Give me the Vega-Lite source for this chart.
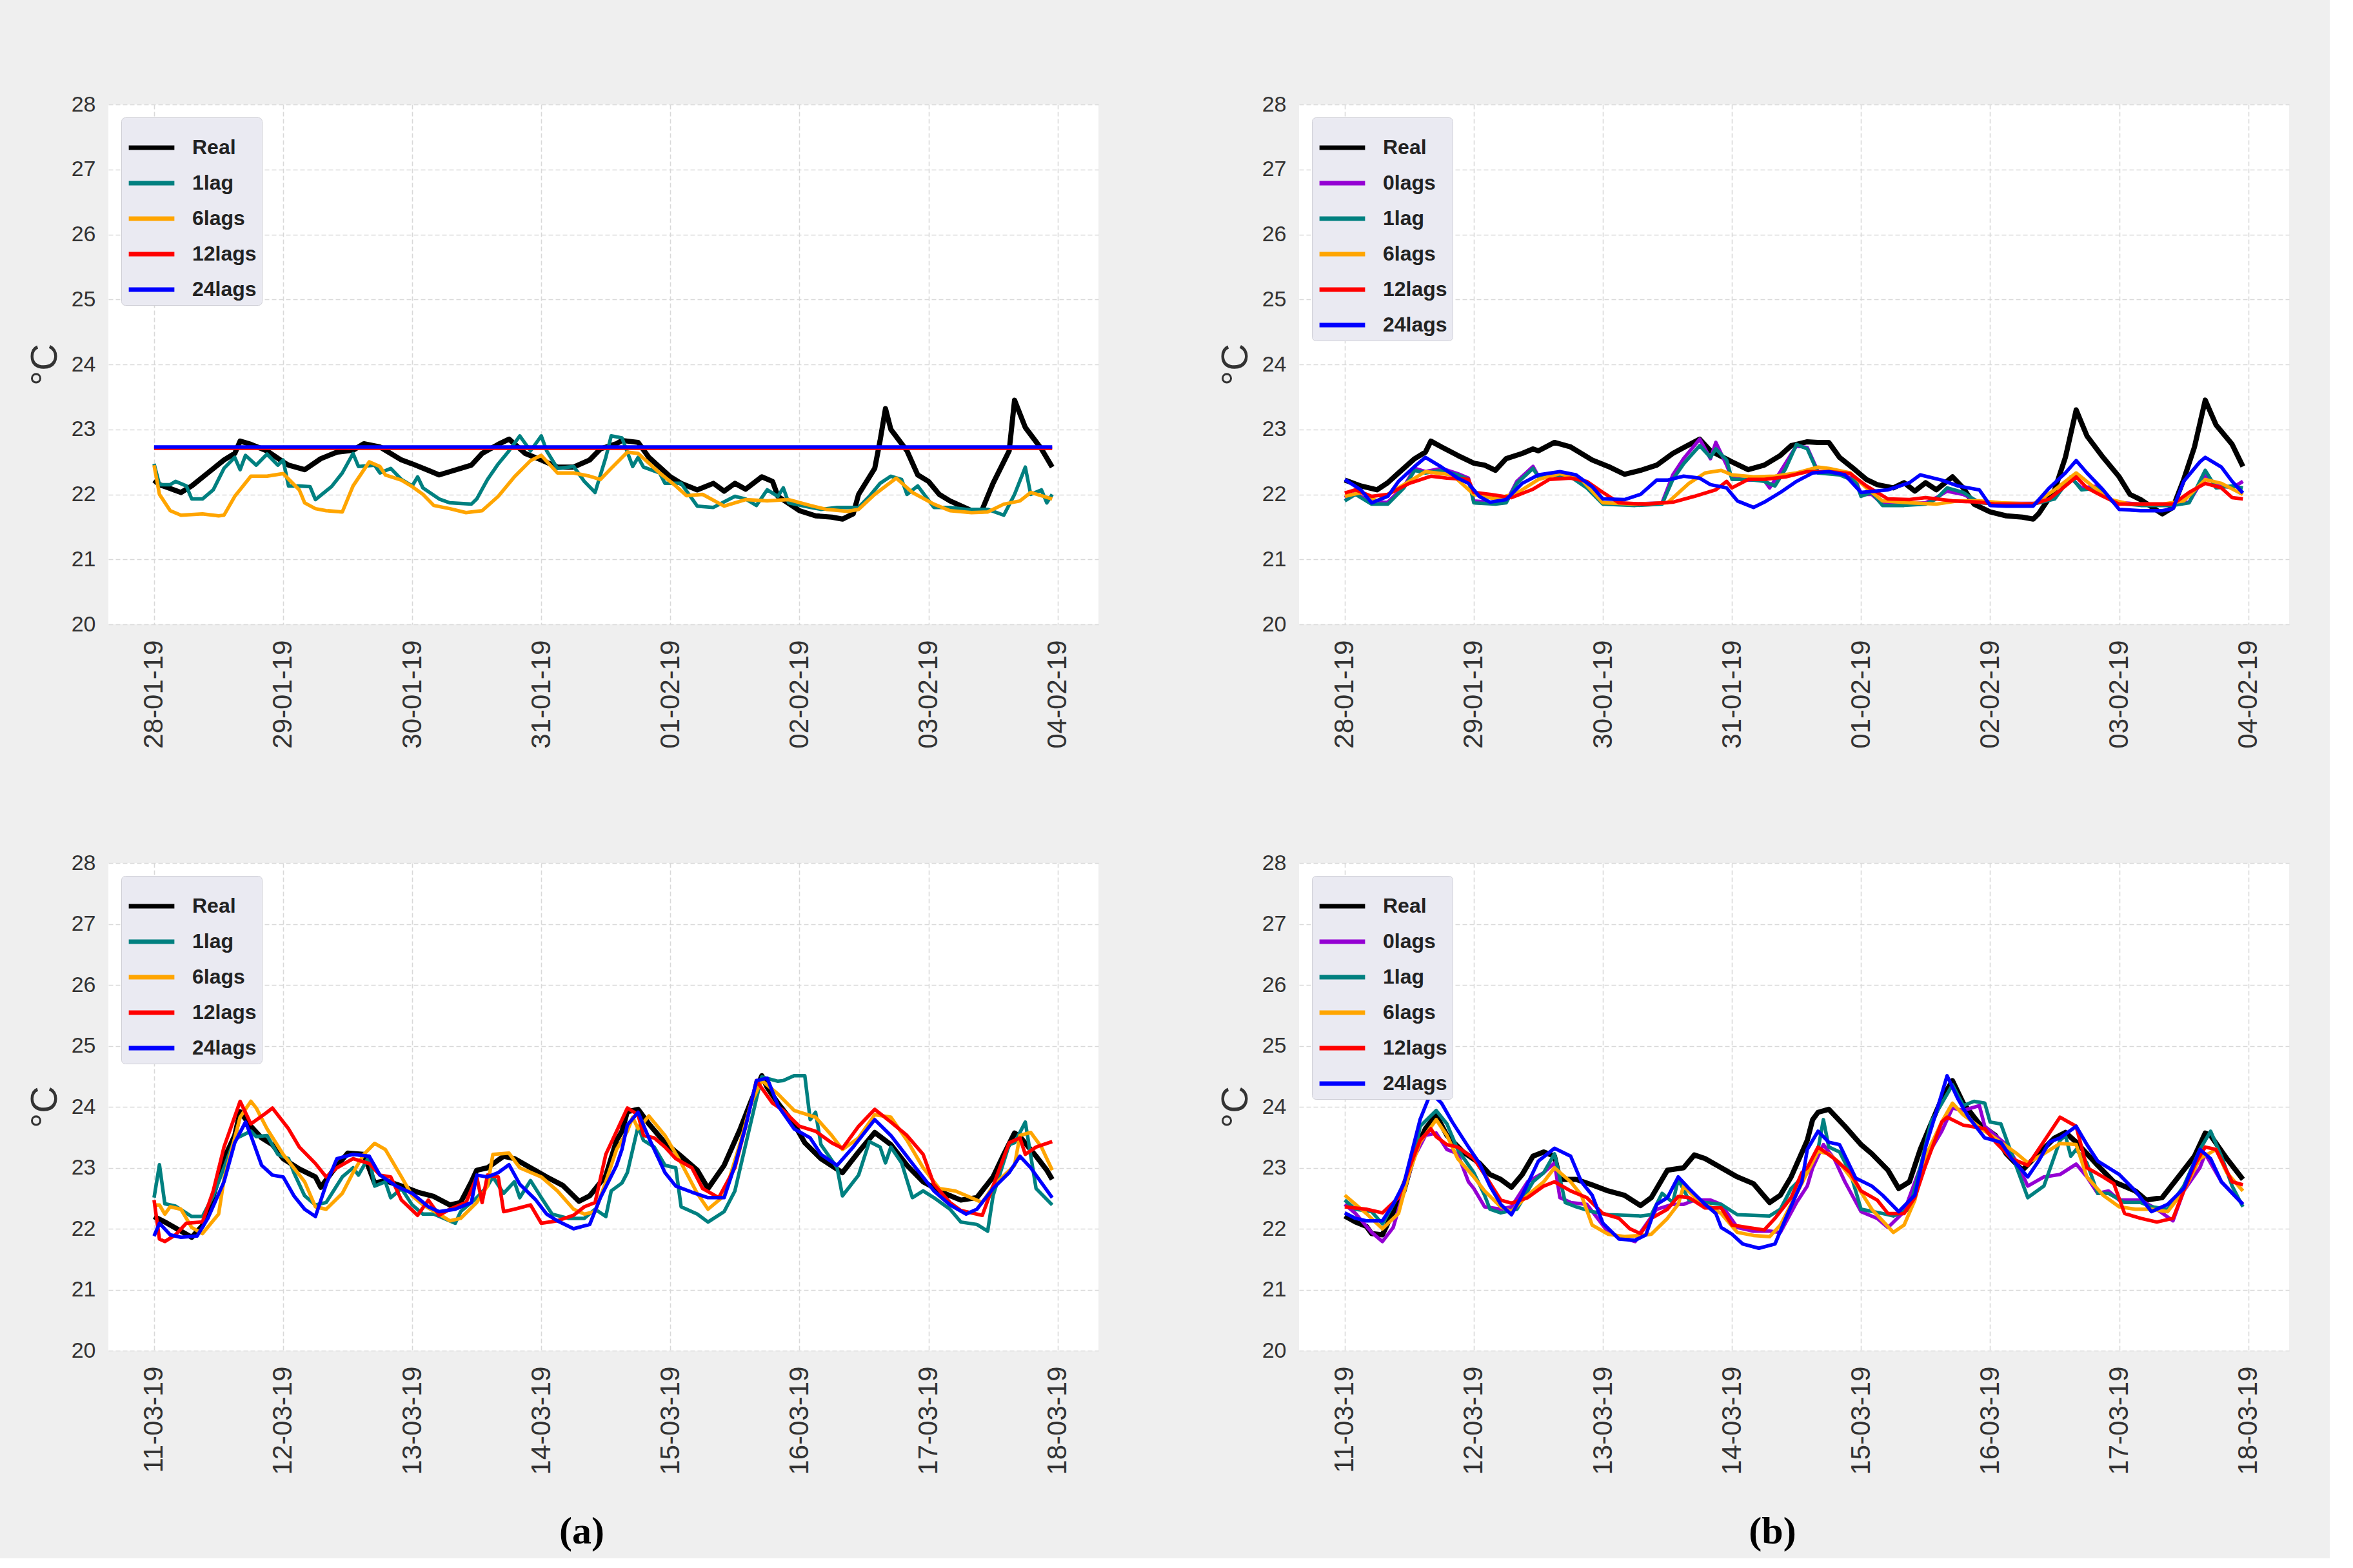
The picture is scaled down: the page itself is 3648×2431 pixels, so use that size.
{
"$schema": "https://vega.github.io/schema/vega-lite/v6.json",
"background": "#efefef",
"padding": {"left": 41, "top": 145, "right": 63, "bottom": 10},
"config": {
  "font": "Liberation Sans",
  "view": {"fill": "white", "stroke": null},
  "axis": {"domain": false, "ticks": false, "tickSize": 0, "gridColor": "#d9d9d9", "gridDash": [7, 4], "gridWidth": 1.6, "labelColor": "#333333", "titleColor": "#333333", "titleFontWeight": "normal"},
  "axisX": {"labelAngle": 270, "labelFontSize": 42, "labelPadding": 24, "labelFlush": false, "format": "%d-%m-%y", "tickCount": {"interval": "day", "step": 1}},
  "axisY": {"labelFont": "Liberation Sans", "labelFontSize": 34, "labelPadding": 20, "titleFontSize": 58, "titlePadding": 12, "minExtent": 57, "maxExtent": 57},
  "legend": {"orient": "top-left", "offset": 20, "fillColor": "#eaeaf2", "strokeColor": "#cfcfd6", "cornerRadius": 6, "padding": 8, "symbolType": "stroke", "symbolSize": 5000, "symbolStrokeWidth": 7, "labelFont": "Liberation Sans", "labelFontSize": 32, "labelFontWeight": "bold", "labelColor": "#222222", "labelOffset": 24, "rowPadding": -6}
},
"resolve": {"scale": {"color": "independent", "x": "independent", "y": "independent"}, "legend": {"color": "independent"}},
"spacing": 184,
"hconcat": [
{
"title": {"text": "(a)", "orient": "bottom", "anchor": "middle", "font": "Liberation Serif", "fontSize": 60, "fontWeight": "bold", "color": "#000000", "offset": 60, "dx": 30},
"spacing": 160,
"resolve": {"scale": {"color": "independent", "x": "independent", "y": "independent"}, "legend": {"color": "independent"}},
"vconcat": [
{
"width": 1535, "height": 806,
"data": {"format": {"parse": {"t": "date:'%Y-%m-%d %H'"}}, "values": [
{"s":"Real","t":"2019-01-28 00","v":22.22},{"s":"Real","t":"2019-01-28 01","v":22.15},{"s":"Real","t":"2019-01-28 05","v":22.03},{"s":"Real","t":"2019-01-28 07","v":22.13},{"s":"Real","t":"2019-01-28 10","v":22.33},{"s":"Real","t":"2019-01-28 13","v":22.53},{"s":"Real","t":"2019-01-28 15","v":22.63},{"s":"Real","t":"2019-01-28 16","v":22.82},{"s":"Real","t":"2019-01-28 18","v":22.77},{"s":"Real","t":"2019-01-28 21","v":22.67},
{"s":"Real","t":"2019-01-29 00","v":22.5},{"s":"Real","t":"2019-01-29 01","v":22.45},{"s":"Real","t":"2019-01-29 04","v":22.38},{"s":"Real","t":"2019-01-29 07","v":22.55},{"s":"Real","t":"2019-01-29 10","v":22.65},{"s":"Real","t":"2019-01-29 13","v":22.68},{"s":"Real","t":"2019-01-29 15","v":22.78},{"s":"Real","t":"2019-01-29 18","v":22.73},{"s":"Real","t":"2019-01-29 22","v":22.53},
{"s":"Real","t":"2019-01-30 00","v":22.47},{"s":"Real","t":"2019-01-30 03","v":22.37},{"s":"Real","t":"2019-01-30 05","v":22.3},{"s":"Real","t":"2019-01-30 07","v":22.35},{"s":"Real","t":"2019-01-30 11","v":22.45},{"s":"Real","t":"2019-01-30 13","v":22.63},{"s":"Real","t":"2019-01-30 16","v":22.77},{"s":"Real","t":"2019-01-30 18","v":22.85},{"s":"Real","t":"2019-01-30 21","v":22.63},
{"s":"Real","t":"2019-01-31 00","v":22.53},{"s":"Real","t":"2019-01-31 03","v":22.42},{"s":"Real","t":"2019-01-31 06","v":22.42},{"s":"Real","t":"2019-01-31 09","v":22.53},{"s":"Real","t":"2019-01-31 11","v":22.7},{"s":"Real","t":"2019-01-31 14","v":22.78},{"s":"Real","t":"2019-01-31 15","v":22.83},{"s":"Real","t":"2019-01-31 18","v":22.8},{"s":"Real","t":"2019-01-31 20","v":22.57},
{"s":"Real","t":"2019-02-01 00","v":22.27},{"s":"Real","t":"2019-02-01 02","v":22.17},{"s":"Real","t":"2019-02-01 05","v":22.07},{"s":"Real","t":"2019-02-01 08","v":22.17},{"s":"Real","t":"2019-02-01 10","v":22.05},{"s":"Real","t":"2019-02-01 12","v":22.17},{"s":"Real","t":"2019-02-01 14","v":22.08},{"s":"Real","t":"2019-02-01 17","v":22.27},{"s":"Real","t":"2019-02-01 19","v":22.2},{"s":"Real","t":"2019-02-01 20","v":21.97},
{"s":"Real","t":"2019-02-02 00","v":21.75},{"s":"Real","t":"2019-02-02 03","v":21.67},{"s":"Real","t":"2019-02-02 06","v":21.65},{"s":"Real","t":"2019-02-02 08","v":21.62},{"s":"Real","t":"2019-02-02 10","v":21.7},{"s":"Real","t":"2019-02-02 11","v":22.0},{"s":"Real","t":"2019-02-02 14","v":22.4},{"s":"Real","t":"2019-02-02 15","v":22.83},{"s":"Real","t":"2019-02-02 16","v":23.32},{"s":"Real","t":"2019-02-02 17","v":23.0},{"s":"Real","t":"2019-02-02 20","v":22.67},{"s":"Real","t":"2019-02-02 22","v":22.3},
{"s":"Real","t":"2019-02-03 00","v":22.2},{"s":"Real","t":"2019-02-03 02","v":22.0},{"s":"Real","t":"2019-02-03 04","v":21.9},{"s":"Real","t":"2019-02-03 08","v":21.75},{"s":"Real","t":"2019-02-03 10","v":21.77},{"s":"Real","t":"2019-02-03 12","v":22.17},{"s":"Real","t":"2019-02-03 15","v":22.67},{"s":"Real","t":"2019-02-03 16","v":23.45},{"s":"Real","t":"2019-02-03 18","v":23.03},{"s":"Real","t":"2019-02-03 21","v":22.7},{"s":"Real","t":"2019-02-03 23","v":22.42},
{"s":"1lag","t":"2019-01-28 00","v":22.47},{"s":"1lag","t":"2019-01-28 01","v":22.15},{"s":"1lag","t":"2019-01-28 03","v":22.15},{"s":"1lag","t":"2019-01-28 04","v":22.2},{"s":"1lag","t":"2019-01-28 06","v":22.13},{"s":"1lag","t":"2019-01-28 07","v":21.93},{"s":"1lag","t":"2019-01-28 09","v":21.93},{"s":"1lag","t":"2019-01-28 11","v":22.07},{"s":"1lag","t":"2019-01-28 13","v":22.4},{"s":"1lag","t":"2019-01-28 15","v":22.57},{"s":"1lag","t":"2019-01-28 16","v":22.38},{"s":"1lag","t":"2019-01-28 17","v":22.6},{"s":"1lag","t":"2019-01-28 19","v":22.45},{"s":"1lag","t":"2019-01-28 21","v":22.62},{"s":"1lag","t":"2019-01-28 23","v":22.45},
{"s":"1lag","t":"2019-01-29 00","v":22.53},{"s":"1lag","t":"2019-01-29 01","v":22.13},{"s":"1lag","t":"2019-01-29 03","v":22.13},{"s":"1lag","t":"2019-01-29 05","v":22.12},{"s":"1lag","t":"2019-01-29 06","v":21.92},{"s":"1lag","t":"2019-01-29 09","v":22.12},{"s":"1lag","t":"2019-01-29 11","v":22.33},{"s":"1lag","t":"2019-01-29 13","v":22.63},{"s":"1lag","t":"2019-01-29 14","v":22.43},{"s":"1lag","t":"2019-01-29 17","v":22.45},{"s":"1lag","t":"2019-01-29 18","v":22.33},{"s":"1lag","t":"2019-01-29 20","v":22.4},{"s":"1lag","t":"2019-01-29 22","v":22.23},
{"s":"1lag","t":"2019-01-30 00","v":22.13},{"s":"1lag","t":"2019-01-30 01","v":22.27},{"s":"1lag","t":"2019-01-30 02","v":22.1},{"s":"1lag","t":"2019-01-30 05","v":21.93},{"s":"1lag","t":"2019-01-30 07","v":21.87},{"s":"1lag","t":"2019-01-30 11","v":21.85},{"s":"1lag","t":"2019-01-30 12","v":21.93},{"s":"1lag","t":"2019-01-30 14","v":22.23},{"s":"1lag","t":"2019-01-30 16","v":22.47},{"s":"1lag","t":"2019-01-30 18","v":22.67},{"s":"1lag","t":"2019-01-30 20","v":22.9},{"s":"1lag","t":"2019-01-30 22","v":22.67},
{"s":"1lag","t":"2019-01-31 00","v":22.9},{"s":"1lag","t":"2019-01-31 01","v":22.67},{"s":"1lag","t":"2019-01-31 03","v":22.4},{"s":"1lag","t":"2019-01-31 06","v":22.43},{"s":"1lag","t":"2019-01-31 08","v":22.2},{"s":"1lag","t":"2019-01-31 10","v":22.03},{"s":"1lag","t":"2019-01-31 12","v":22.57},{"s":"1lag","t":"2019-01-31 13","v":22.9},{"s":"1lag","t":"2019-01-31 15","v":22.87},{"s":"1lag","t":"2019-01-31 17","v":22.43},{"s":"1lag","t":"2019-01-31 18","v":22.57},{"s":"1lag","t":"2019-01-31 19","v":22.42},{"s":"1lag","t":"2019-01-31 22","v":22.33},{"s":"1lag","t":"2019-01-31 23","v":22.17},
{"s":"1lag","t":"2019-02-01 02","v":22.17},{"s":"1lag","t":"2019-02-01 05","v":21.82},{"s":"1lag","t":"2019-02-01 08","v":21.8},{"s":"1lag","t":"2019-02-01 12","v":21.97},{"s":"1lag","t":"2019-02-01 14","v":21.93},{"s":"1lag","t":"2019-02-01 16","v":21.83},{"s":"1lag","t":"2019-02-01 18","v":22.07},{"s":"1lag","t":"2019-02-01 20","v":21.97},{"s":"1lag","t":"2019-02-01 21","v":22.1},{"s":"1lag","t":"2019-02-01 22","v":21.87},
{"s":"1lag","t":"2019-02-02 02","v":21.8},{"s":"1lag","t":"2019-02-02 04","v":21.77},{"s":"1lag","t":"2019-02-02 07","v":21.8},{"s":"1lag","t":"2019-02-02 11","v":21.8},{"s":"1lag","t":"2019-02-02 13","v":21.97},{"s":"1lag","t":"2019-02-02 15","v":22.17},{"s":"1lag","t":"2019-02-02 17","v":22.28},{"s":"1lag","t":"2019-02-02 19","v":22.23},{"s":"1lag","t":"2019-02-02 20","v":22.0},{"s":"1lag","t":"2019-02-02 22","v":22.13},
{"s":"1lag","t":"2019-02-03 01","v":21.8},{"s":"1lag","t":"2019-02-03 04","v":21.8},{"s":"1lag","t":"2019-02-03 07","v":21.77},{"s":"1lag","t":"2019-02-03 11","v":21.77},{"s":"1lag","t":"2019-02-03 14","v":21.68},{"s":"1lag","t":"2019-02-03 16","v":22.0},{"s":"1lag","t":"2019-02-03 18","v":22.42},{"s":"1lag","t":"2019-02-03 19","v":22.0},{"s":"1lag","t":"2019-02-03 21","v":22.07},{"s":"1lag","t":"2019-02-03 22","v":21.87},{"s":"1lag","t":"2019-02-03 23","v":22.0},
{"s":"6lags","t":"2019-01-28 00","v":22.45},{"s":"6lags","t":"2019-01-28 01","v":22.0},{"s":"6lags","t":"2019-01-28 03","v":21.75},{"s":"6lags","t":"2019-01-28 05","v":21.68},{"s":"6lags","t":"2019-01-28 09","v":21.7},{"s":"6lags","t":"2019-01-28 12","v":21.67},{"s":"6lags","t":"2019-01-28 13","v":21.68},{"s":"6lags","t":"2019-01-28 15","v":21.97},{"s":"6lags","t":"2019-01-28 18","v":22.28},{"s":"6lags","t":"2019-01-28 21","v":22.28},
{"s":"6lags","t":"2019-01-29 00","v":22.32},{"s":"6lags","t":"2019-01-29 03","v":22.07},{"s":"6lags","t":"2019-01-29 04","v":21.87},{"s":"6lags","t":"2019-01-29 06","v":21.78},{"s":"6lags","t":"2019-01-29 08","v":21.75},{"s":"6lags","t":"2019-01-29 11","v":21.73},{"s":"6lags","t":"2019-01-29 13","v":22.13},{"s":"6lags","t":"2019-01-29 16","v":22.5},{"s":"6lags","t":"2019-01-29 18","v":22.43},{"s":"6lags","t":"2019-01-29 19","v":22.3},{"s":"6lags","t":"2019-01-29 22","v":22.22},
{"s":"6lags","t":"2019-01-30 00","v":22.12},{"s":"6lags","t":"2019-01-30 02","v":22.0},{"s":"6lags","t":"2019-01-30 04","v":21.83},{"s":"6lags","t":"2019-01-30 07","v":21.78},{"s":"6lags","t":"2019-01-30 10","v":21.72},{"s":"6lags","t":"2019-01-30 13","v":21.75},{"s":"6lags","t":"2019-01-30 16","v":21.97},{"s":"6lags","t":"2019-01-30 19","v":22.27},{"s":"6lags","t":"2019-01-30 22","v":22.52},
{"s":"6lags","t":"2019-01-31 00","v":22.6},{"s":"6lags","t":"2019-01-31 03","v":22.33},{"s":"6lags","t":"2019-01-31 06","v":22.33},{"s":"6lags","t":"2019-01-31 09","v":22.28},{"s":"6lags","t":"2019-01-31 11","v":22.23},{"s":"6lags","t":"2019-01-31 13","v":22.4},{"s":"6lags","t":"2019-01-31 16","v":22.65},{"s":"6lags","t":"2019-01-31 18","v":22.63},{"s":"6lags","t":"2019-01-31 22","v":22.33},
{"s":"6lags","t":"2019-02-01 01","v":22.13},{"s":"6lags","t":"2019-02-01 03","v":21.98},{"s":"6lags","t":"2019-02-01 06","v":22.0},{"s":"6lags","t":"2019-02-01 10","v":21.82},{"s":"6lags","t":"2019-02-01 14","v":21.92},{"s":"6lags","t":"2019-02-01 18","v":21.9},{"s":"6lags","t":"2019-02-01 22","v":21.92},
{"s":"6lags","t":"2019-02-02 02","v":21.83},{"s":"6lags","t":"2019-02-02 05","v":21.77},{"s":"6lags","t":"2019-02-02 09","v":21.74},{"s":"6lags","t":"2019-02-02 11","v":21.77},{"s":"6lags","t":"2019-02-02 14","v":22.0},{"s":"6lags","t":"2019-02-02 18","v":22.25},{"s":"6lags","t":"2019-02-02 21","v":22.03},
{"s":"6lags","t":"2019-02-03 01","v":21.85},{"s":"6lags","t":"2019-02-03 04","v":21.75},{"s":"6lags","t":"2019-02-03 08","v":21.72},{"s":"6lags","t":"2019-02-03 11","v":21.73},{"s":"6lags","t":"2019-02-03 14","v":21.85},{"s":"6lags","t":"2019-02-03 17","v":21.9},{"s":"6lags","t":"2019-02-03 19","v":22.03},{"s":"6lags","t":"2019-02-03 23","v":21.93},
{"s":"12lags","t":"2019-01-28 00","v":22.71},{"s":"12lags","t":"2019-02-03 23","v":22.71},
{"s":"24lags","t":"2019-01-28 00","v":22.73},{"s":"24lags","t":"2019-02-03 23","v":22.73}
]},
"mark": {"type": "line", "strokeJoin": "round"},
"encoding": {
  "x": {"field": "t", "type": "temporal", "title": null, "scale": {"domain": [{"year": 2019, "month": 1, "date": 27, "hours": 15, "minutes": 30}, {"year": 2019, "month": 2, "date": 4, "hours": 7, "minutes": 36}]}},
  "y": {"field": "v", "type": "quantitative", "title": "°C", "scale": {"domain": [20, 28], "nice": false, "zero": false}, "axis": {"values": [20, 21, 22, 23, 24, 25, 26, 27, 28]}},
  "color": {"field": "s", "type": "nominal", "scale": {"domain": ["Real", "1lag", "6lags", "12lags", "24lags"], "range": ["#000000", "#008080", "#ffa500", "#ff0000", "#0000ff"]}, "legend": {"title": null}},
  "strokeWidth": {"condition": {"test": "datum.s === 'Real'", "value": 8}, "value": 5.5}
}
},
{
"width": 1535, "height": 756,
"data": {"format": {"parse": {"t": "date:'%Y-%m-%d %H'"}}, "values": [
{"s":"Real","t":"2019-03-11 00","v":22.2},{"s":"Real","t":"2019-03-11 02","v":22.11},{"s":"Real","t":"2019-03-11 05","v":21.96},{"s":"Real","t":"2019-03-11 07","v":21.86},{"s":"Real","t":"2019-03-11 09","v":22.05},{"s":"Real","t":"2019-03-11 11","v":22.54},{"s":"Real","t":"2019-03-11 13","v":23.15},{"s":"Real","t":"2019-03-11 15","v":23.53},{"s":"Real","t":"2019-03-11 16","v":23.92},{"s":"Real","t":"2019-03-11 18","v":23.68},{"s":"Real","t":"2019-03-11 20","v":23.49},{"s":"Real","t":"2019-03-11 22","v":23.38},
{"s":"Real","t":"2019-03-12 00","v":23.15},{"s":"Real","t":"2019-03-12 03","v":22.98},{"s":"Real","t":"2019-03-12 06","v":22.85},{"s":"Real","t":"2019-03-12 07","v":22.68},{"s":"Real","t":"2019-03-12 09","v":22.92},{"s":"Real","t":"2019-03-12 12","v":23.24},{"s":"Real","t":"2019-03-12 15","v":23.22},{"s":"Real","t":"2019-03-12 17","v":22.75},{"s":"Real","t":"2019-03-12 19","v":22.79},{"s":"Real","t":"2019-03-12 22","v":22.7},
{"s":"Real","t":"2019-03-13 01","v":22.6},{"s":"Real","t":"2019-03-13 04","v":22.53},{"s":"Real","t":"2019-03-13 07","v":22.39},{"s":"Real","t":"2019-03-13 09","v":22.43},{"s":"Real","t":"2019-03-13 11","v":22.77},{"s":"Real","t":"2019-03-13 12","v":22.96},{"s":"Real","t":"2019-03-13 14","v":23.0},{"s":"Real","t":"2019-03-13 17","v":23.19},{"s":"Real","t":"2019-03-13 19","v":23.15},{"s":"Real","t":"2019-03-13 22","v":23.0},
{"s":"Real","t":"2019-03-14 01","v":22.85},{"s":"Real","t":"2019-03-14 04","v":22.71},{"s":"Real","t":"2019-03-14 07","v":22.45},{"s":"Real","t":"2019-03-14 09","v":22.54},{"s":"Real","t":"2019-03-14 12","v":22.87},{"s":"Real","t":"2019-03-14 14","v":23.45},{"s":"Real","t":"2019-03-14 15","v":23.6},{"s":"Real","t":"2019-03-14 16","v":23.92},{"s":"Real","t":"2019-03-14 18","v":23.96},{"s":"Real","t":"2019-03-14 20","v":23.72},{"s":"Real","t":"2019-03-14 23","v":23.41},
{"s":"Real","t":"2019-03-15 02","v":23.19},{"s":"Real","t":"2019-03-15 05","v":22.96},{"s":"Real","t":"2019-03-15 07","v":22.66},{"s":"Real","t":"2019-03-15 10","v":23.04},{"s":"Real","t":"2019-03-15 13","v":23.64},{"s":"Real","t":"2019-03-15 15","v":24.09},{"s":"Real","t":"2019-03-15 17","v":24.51},{"s":"Real","t":"2019-03-15 18","v":24.32},{"s":"Real","t":"2019-03-15 20","v":24.06},{"s":"Real","t":"2019-03-15 23","v":23.72},
{"s":"Real","t":"2019-03-16 01","v":23.41},{"s":"Real","t":"2019-03-16 04","v":23.15},{"s":"Real","t":"2019-03-16 08","v":22.92},{"s":"Real","t":"2019-03-16 11","v":23.26},{"s":"Real","t":"2019-03-16 14","v":23.58},{"s":"Real","t":"2019-03-16 17","v":23.38},{"s":"Real","t":"2019-03-16 20","v":23.04},{"s":"Real","t":"2019-03-16 23","v":22.77},
{"s":"Real","t":"2019-03-17 03","v":22.58},{"s":"Real","t":"2019-03-17 06","v":22.47},{"s":"Real","t":"2019-03-17 09","v":22.51},{"s":"Real","t":"2019-03-17 12","v":22.85},{"s":"Real","t":"2019-03-17 14","v":23.22},{"s":"Real","t":"2019-03-17 16","v":23.57},{"s":"Real","t":"2019-03-17 17","v":23.51},{"s":"Real","t":"2019-03-17 20","v":23.19},{"s":"Real","t":"2019-03-17 22","v":22.96},{"s":"Real","t":"2019-03-17 23","v":22.81},
{"s":"1lag","t":"2019-03-11 00","v":22.51},{"s":"1lag","t":"2019-03-11 01","v":23.05},{"s":"1lag","t":"2019-03-11 02","v":22.41},{"s":"1lag","t":"2019-03-11 04","v":22.37},{"s":"1lag","t":"2019-03-11 07","v":22.2},{"s":"1lag","t":"2019-03-11 09","v":22.2},{"s":"1lag","t":"2019-03-11 11","v":22.54},{"s":"1lag","t":"2019-03-11 13","v":23.0},{"s":"1lag","t":"2019-03-11 15","v":23.47},{"s":"1lag","t":"2019-03-11 18","v":23.6},{"s":"1lag","t":"2019-03-11 19","v":23.51},{"s":"1lag","t":"2019-03-11 21","v":23.53},{"s":"1lag","t":"2019-03-11 23","v":23.22},
{"s":"1lag","t":"2019-03-12 01","v":23.15},{"s":"1lag","t":"2019-03-12 02","v":22.92},{"s":"1lag","t":"2019-03-12 04","v":22.54},{"s":"1lag","t":"2019-03-12 06","v":22.39},{"s":"1lag","t":"2019-03-12 08","v":22.43},{"s":"1lag","t":"2019-03-12 11","v":22.85},{"s":"1lag","t":"2019-03-12 13","v":23.0},{"s":"1lag","t":"2019-03-12 14","v":22.88},{"s":"1lag","t":"2019-03-12 16","v":23.19},{"s":"1lag","t":"2019-03-12 17","v":22.7},{"s":"1lag","t":"2019-03-12 19","v":22.77},{"s":"1lag","t":"2019-03-12 20","v":22.51},{"s":"1lag","t":"2019-03-12 22","v":22.66},
{"s":"1lag","t":"2019-03-13 00","v":22.39},{"s":"1lag","t":"2019-03-13 02","v":22.24},{"s":"1lag","t":"2019-03-13 04","v":22.24},{"s":"1lag","t":"2019-03-13 08","v":22.09},{"s":"1lag","t":"2019-03-13 09","v":22.28},{"s":"1lag","t":"2019-03-13 12","v":22.51},{"s":"1lag","t":"2019-03-13 14","v":22.7},{"s":"1lag","t":"2019-03-13 15","v":22.85},{"s":"1lag","t":"2019-03-13 17","v":22.58},{"s":"1lag","t":"2019-03-13 19","v":22.77},{"s":"1lag","t":"2019-03-13 20","v":22.51},{"s":"1lag","t":"2019-03-13 22","v":22.79},
{"s":"1lag","t":"2019-03-14 00","v":22.51},{"s":"1lag","t":"2019-03-14 02","v":22.24},{"s":"1lag","t":"2019-03-14 05","v":22.17},{"s":"1lag","t":"2019-03-14 08","v":22.17},{"s":"1lag","t":"2019-03-14 10","v":22.32},{"s":"1lag","t":"2019-03-14 12","v":22.2},{"s":"1lag","t":"2019-03-14 13","v":22.62},{"s":"1lag","t":"2019-03-14 15","v":22.75},{"s":"1lag","t":"2019-03-14 16","v":22.92},{"s":"1lag","t":"2019-03-14 18","v":23.68},{"s":"1lag","t":"2019-03-14 19","v":23.45},{"s":"1lag","t":"2019-03-14 21","v":23.34},{"s":"1lag","t":"2019-03-14 23","v":23.04},
{"s":"1lag","t":"2019-03-15 01","v":23.0},{"s":"1lag","t":"2019-03-15 02","v":22.36},{"s":"1lag","t":"2019-03-15 05","v":22.24},{"s":"1lag","t":"2019-03-15 07","v":22.11},{"s":"1lag","t":"2019-03-15 10","v":22.28},{"s":"1lag","t":"2019-03-15 12","v":22.62},{"s":"1lag","t":"2019-03-15 14","v":23.38},{"s":"1lag","t":"2019-03-15 16","v":24.13},{"s":"1lag","t":"2019-03-15 17","v":24.49},{"s":"1lag","t":"2019-03-15 20","v":24.42},{"s":"1lag","t":"2019-03-15 21","v":24.43},{"s":"1lag","t":"2019-03-15 23","v":24.51},
{"s":"1lag","t":"2019-03-16 01","v":24.51},{"s":"1lag","t":"2019-03-16 02","v":23.79},{"s":"1lag","t":"2019-03-16 03","v":23.91},{"s":"1lag","t":"2019-03-16 04","v":23.38},{"s":"1lag","t":"2019-03-16 07","v":23.0},{"s":"1lag","t":"2019-03-16 08","v":22.54},{"s":"1lag","t":"2019-03-16 11","v":22.88},{"s":"1lag","t":"2019-03-16 13","v":23.43},{"s":"1lag","t":"2019-03-16 15","v":23.34},{"s":"1lag","t":"2019-03-16 16","v":23.08},{"s":"1lag","t":"2019-03-16 17","v":23.34},{"s":"1lag","t":"2019-03-16 19","v":23.08},{"s":"1lag","t":"2019-03-16 21","v":22.51},{"s":"1lag","t":"2019-03-16 23","v":22.62},
{"s":"1lag","t":"2019-03-17 01","v":22.51},{"s":"1lag","t":"2019-03-17 04","v":22.32},{"s":"1lag","t":"2019-03-17 06","v":22.11},{"s":"1lag","t":"2019-03-17 09","v":22.07},{"s":"1lag","t":"2019-03-17 11","v":21.96},{"s":"1lag","t":"2019-03-17 12","v":22.54},{"s":"1lag","t":"2019-03-17 15","v":23.38},{"s":"1lag","t":"2019-03-17 16","v":23.41},{"s":"1lag","t":"2019-03-17 18","v":23.75},{"s":"1lag","t":"2019-03-17 20","v":22.66},{"s":"1lag","t":"2019-03-17 23","v":22.39},
{"s":"6lags","t":"2019-03-11 00","v":22.39},{"s":"6lags","t":"2019-03-11 01","v":22.39},{"s":"6lags","t":"2019-03-11 02","v":22.24},{"s":"6lags","t":"2019-03-11 03","v":22.36},{"s":"6lags","t":"2019-03-11 05","v":22.32},{"s":"6lags","t":"2019-03-11 07","v":22.02},{"s":"6lags","t":"2019-03-11 09","v":21.92},{"s":"6lags","t":"2019-03-11 12","v":22.24},{"s":"6lags","t":"2019-03-11 13","v":22.81},{"s":"6lags","t":"2019-03-11 16","v":23.83},{"s":"6lags","t":"2019-03-11 18","v":24.09},{"s":"6lags","t":"2019-03-11 19","v":23.98},{"s":"6lags","t":"2019-03-11 21","v":23.64},
{"s":"6lags","t":"2019-03-12 00","v":23.22},{"s":"6lags","t":"2019-03-12 01","v":23.11},{"s":"6lags","t":"2019-03-12 04","v":22.77},{"s":"6lags","t":"2019-03-12 06","v":22.36},{"s":"6lags","t":"2019-03-12 08","v":22.32},{"s":"6lags","t":"2019-03-12 11","v":22.58},{"s":"6lags","t":"2019-03-12 13","v":22.92},{"s":"6lags","t":"2019-03-12 15","v":23.22},{"s":"6lags","t":"2019-03-12 17","v":23.4},{"s":"6lags","t":"2019-03-12 19","v":23.3},{"s":"6lags","t":"2019-03-12 22","v":22.85},
{"s":"6lags","t":"2019-03-13 00","v":22.54},{"s":"6lags","t":"2019-03-13 02","v":22.39},{"s":"6lags","t":"2019-03-13 05","v":22.24},{"s":"6lags","t":"2019-03-13 07","v":22.13},{"s":"6lags","t":"2019-03-13 09","v":22.17},{"s":"6lags","t":"2019-03-13 12","v":22.43},{"s":"6lags","t":"2019-03-13 14","v":22.7},{"s":"6lags","t":"2019-03-13 15","v":23.22},{"s":"6lags","t":"2019-03-13 18","v":23.24},{"s":"6lags","t":"2019-03-13 20","v":23.0},
{"s":"6lags","t":"2019-03-14 00","v":22.85},{"s":"6lags","t":"2019-03-14 03","v":22.62},{"s":"6lags","t":"2019-03-14 06","v":22.32},{"s":"6lags","t":"2019-03-14 08","v":22.24},{"s":"6lags","t":"2019-03-14 10","v":22.28},{"s":"6lags","t":"2019-03-14 12","v":22.77},{"s":"6lags","t":"2019-03-14 14","v":23.3},{"s":"6lags","t":"2019-03-14 16","v":23.6},{"s":"6lags","t":"2019-03-14 17","v":23.83},{"s":"6lags","t":"2019-03-14 18","v":23.64},{"s":"6lags","t":"2019-03-14 20","v":23.85},{"s":"6lags","t":"2019-03-14 23","v":23.53},
{"s":"6lags","t":"2019-03-15 02","v":23.08},{"s":"6lags","t":"2019-03-15 05","v":22.58},{"s":"6lags","t":"2019-03-15 07","v":22.32},{"s":"6lags","t":"2019-03-15 10","v":22.54},{"s":"6lags","t":"2019-03-15 13","v":23.41},{"s":"6lags","t":"2019-03-15 15","v":24.06},{"s":"6lags","t":"2019-03-15 17","v":24.43},{"s":"6lags","t":"2019-03-15 20","v":24.21},{"s":"6lags","t":"2019-03-15 23","v":23.94},
{"s":"6lags","t":"2019-03-16 03","v":23.83},{"s":"6lags","t":"2019-03-16 06","v":23.53},{"s":"6lags","t":"2019-03-16 08","v":23.3},{"s":"6lags","t":"2019-03-16 11","v":23.49},{"s":"6lags","t":"2019-03-16 14","v":23.87},{"s":"6lags","t":"2019-03-16 17","v":23.83},{"s":"6lags","t":"2019-03-16 20","v":23.45},{"s":"6lags","t":"2019-03-16 23","v":23.0},
{"s":"6lags","t":"2019-03-17 02","v":22.66},{"s":"6lags","t":"2019-03-17 05","v":22.62},{"s":"6lags","t":"2019-03-17 10","v":22.43},{"s":"6lags","t":"2019-03-17 12","v":22.7},{"s":"6lags","t":"2019-03-17 16","v":23.04},{"s":"6lags","t":"2019-03-17 17","v":23.53},{"s":"6lags","t":"2019-03-17 19","v":23.58},{"s":"6lags","t":"2019-03-17 21","v":23.34},{"s":"6lags","t":"2019-03-17 23","v":22.96},
{"s":"12lags","t":"2019-03-11 00","v":22.47},{"s":"12lags","t":"2019-03-11 01","v":21.83},{"s":"12lags","t":"2019-03-11 02","v":21.79},{"s":"12lags","t":"2019-03-11 04","v":21.9},{"s":"12lags","t":"2019-03-11 06","v":22.09},{"s":"12lags","t":"2019-03-11 09","v":22.11},{"s":"12lags","t":"2019-03-11 11","v":22.62},{"s":"12lags","t":"2019-03-11 13","v":23.34},{"s":"12lags","t":"2019-03-11 16","v":24.09},{"s":"12lags","t":"2019-03-11 18","v":23.72},{"s":"12lags","t":"2019-03-11 21","v":23.91},{"s":"12lags","t":"2019-03-11 22","v":23.98},
{"s":"12lags","t":"2019-03-12 01","v":23.64},{"s":"12lags","t":"2019-03-12 03","v":23.34},{"s":"12lags","t":"2019-03-12 06","v":23.07},{"s":"12lags","t":"2019-03-12 08","v":22.85},{"s":"12lags","t":"2019-03-12 10","v":23.0},{"s":"12lags","t":"2019-03-12 13","v":23.15},{"s":"12lags","t":"2019-03-12 16","v":23.07},{"s":"12lags","t":"2019-03-12 18","v":22.88},{"s":"12lags","t":"2019-03-12 20","v":22.85},{"s":"12lags","t":"2019-03-12 22","v":22.47},
{"s":"12lags","t":"2019-03-13 01","v":22.22},{"s":"12lags","t":"2019-03-13 03","v":22.47},{"s":"12lags","t":"2019-03-13 05","v":22.22},{"s":"12lags","t":"2019-03-13 07","v":22.32},{"s":"12lags","t":"2019-03-13 10","v":22.43},{"s":"12lags","t":"2019-03-13 12","v":22.85},{"s":"12lags","t":"2019-03-13 13","v":22.43},{"s":"12lags","t":"2019-03-13 14","v":22.88},{"s":"12lags","t":"2019-03-13 16","v":22.85},{"s":"12lags","t":"2019-03-13 17","v":22.28},{"s":"12lags","t":"2019-03-13 19","v":22.32},{"s":"12lags","t":"2019-03-13 22","v":22.39},
{"s":"12lags","t":"2019-03-14 00","v":22.09},{"s":"12lags","t":"2019-03-14 03","v":22.13},{"s":"12lags","t":"2019-03-14 06","v":22.22},{"s":"12lags","t":"2019-03-14 08","v":22.36},{"s":"12lags","t":"2019-03-14 10","v":22.43},{"s":"12lags","t":"2019-03-14 12","v":23.22},{"s":"12lags","t":"2019-03-14 14","v":23.6},{"s":"12lags","t":"2019-03-14 16","v":23.98},{"s":"12lags","t":"2019-03-14 18","v":23.87},{"s":"12lags","t":"2019-03-14 19","v":23.53},{"s":"12lags","t":"2019-03-14 21","v":23.49},{"s":"12lags","t":"2019-03-14 23","v":23.34},
{"s":"12lags","t":"2019-03-15 01","v":23.15},{"s":"12lags","t":"2019-03-15 04","v":23.0},{"s":"12lags","t":"2019-03-15 06","v":22.66},{"s":"12lags","t":"2019-03-15 09","v":22.51},{"s":"12lags","t":"2019-03-15 12","v":23.0},{"s":"12lags","t":"2019-03-15 14","v":23.68},{"s":"12lags","t":"2019-03-15 16","v":24.43},{"s":"12lags","t":"2019-03-15 19","v":24.06},{"s":"12lags","t":"2019-03-15 21","v":23.94},
{"s":"12lags","t":"2019-03-16 00","v":23.68},{"s":"12lags","t":"2019-03-16 03","v":23.6},{"s":"12lags","t":"2019-03-16 06","v":23.41},{"s":"12lags","t":"2019-03-16 08","v":23.32},{"s":"12lags","t":"2019-03-16 11","v":23.68},{"s":"12lags","t":"2019-03-16 14","v":23.96},{"s":"12lags","t":"2019-03-16 17","v":23.75},{"s":"12lags","t":"2019-03-16 20","v":23.53},{"s":"12lags","t":"2019-03-16 23","v":23.22},
{"s":"12lags","t":"2019-03-17 01","v":22.73},{"s":"12lags","t":"2019-03-17 04","v":22.43},{"s":"12lags","t":"2019-03-17 06","v":22.3},{"s":"12lags","t":"2019-03-17 10","v":22.22},{"s":"12lags","t":"2019-03-17 12","v":22.7},{"s":"12lags","t":"2019-03-17 15","v":23.41},{"s":"12lags","t":"2019-03-17 17","v":23.49},{"s":"12lags","t":"2019-03-17 18","v":23.22},{"s":"12lags","t":"2019-03-17 20","v":23.34},{"s":"12lags","t":"2019-03-17 23","v":23.43},
{"s":"24lags","t":"2019-03-11 00","v":21.88},{"s":"24lags","t":"2019-03-11 01","v":22.09},{"s":"24lags","t":"2019-03-11 03","v":21.9},{"s":"24lags","t":"2019-03-11 05","v":21.86},{"s":"24lags","t":"2019-03-11 08","v":21.88},{"s":"24lags","t":"2019-03-11 10","v":22.17},{"s":"24lags","t":"2019-03-11 13","v":22.77},{"s":"24lags","t":"2019-03-11 15","v":23.41},{"s":"24lags","t":"2019-03-11 17","v":23.75},{"s":"24lags","t":"2019-03-11 18","v":23.53},{"s":"24lags","t":"2019-03-11 20","v":23.04},{"s":"24lags","t":"2019-03-11 22","v":22.88},
{"s":"24lags","t":"2019-03-12 00","v":22.85},{"s":"24lags","t":"2019-03-12 02","v":22.54},{"s":"24lags","t":"2019-03-12 04","v":22.32},{"s":"24lags","t":"2019-03-12 06","v":22.2},{"s":"24lags","t":"2019-03-12 08","v":22.73},{"s":"24lags","t":"2019-03-12 10","v":23.15},{"s":"24lags","t":"2019-03-12 13","v":23.22},{"s":"24lags","t":"2019-03-12 16","v":23.19},{"s":"24lags","t":"2019-03-12 18","v":22.88},{"s":"24lags","t":"2019-03-12 21","v":22.7},
{"s":"24lags","t":"2019-03-13 00","v":22.58},{"s":"24lags","t":"2019-03-13 03","v":22.36},{"s":"24lags","t":"2019-03-13 05","v":22.28},{"s":"24lags","t":"2019-03-13 08","v":22.32},{"s":"24lags","t":"2019-03-13 11","v":22.43},{"s":"24lags","t":"2019-03-13 12","v":22.88},{"s":"24lags","t":"2019-03-13 14","v":22.85},{"s":"24lags","t":"2019-03-13 16","v":22.92},{"s":"24lags","t":"2019-03-13 18","v":23.05},{"s":"24lags","t":"2019-03-13 20","v":22.73},{"s":"24lags","t":"2019-03-13 23","v":22.47},
{"s":"24lags","t":"2019-03-14 01","v":22.24},{"s":"24lags","t":"2019-03-14 03","v":22.13},{"s":"24lags","t":"2019-03-14 06","v":22.0},{"s":"24lags","t":"2019-03-14 09","v":22.07},{"s":"24lags","t":"2019-03-14 11","v":22.51},{"s":"24lags","t":"2019-03-14 14","v":23.04},{"s":"24lags","t":"2019-03-14 15","v":23.3},{"s":"24lags","t":"2019-03-14 16","v":23.7},{"s":"24lags","t":"2019-03-14 18","v":23.91},{"s":"24lags","t":"2019-03-14 20","v":23.49},{"s":"24lags","t":"2019-03-14 23","v":22.92},
{"s":"24lags","t":"2019-03-15 01","v":22.7},{"s":"24lags","t":"2019-03-15 04","v":22.6},{"s":"24lags","t":"2019-03-15 07","v":22.51},{"s":"24lags","t":"2019-03-15 10","v":22.51},{"s":"24lags","t":"2019-03-15 12","v":23.04},{"s":"24lags","t":"2019-03-15 14","v":23.68},{"s":"24lags","t":"2019-03-15 16","v":24.43},{"s":"24lags","t":"2019-03-15 18","v":24.47},{"s":"24lags","t":"2019-03-15 20","v":24.02},{"s":"24lags","t":"2019-03-15 23","v":23.64},
{"s":"24lags","t":"2019-03-16 02","v":23.49},{"s":"24lags","t":"2019-03-16 04","v":23.22},{"s":"24lags","t":"2019-03-16 07","v":23.04},{"s":"24lags","t":"2019-03-16 10","v":23.34},{"s":"24lags","t":"2019-03-16 14","v":23.79},{"s":"24lags","t":"2019-03-16 17","v":23.53},{"s":"24lags","t":"2019-03-16 21","v":23.07},
{"s":"24lags","t":"2019-03-17 01","v":22.62},{"s":"24lags","t":"2019-03-17 04","v":22.39},{"s":"24lags","t":"2019-03-17 07","v":22.24},{"s":"24lags","t":"2019-03-17 09","v":22.32},{"s":"24lags","t":"2019-03-17 12","v":22.66},{"s":"24lags","t":"2019-03-17 15","v":22.92},{"s":"24lags","t":"2019-03-17 17","v":23.19},{"s":"24lags","t":"2019-03-17 19","v":23.0},{"s":"24lags","t":"2019-03-17 23","v":22.51}
]},
"mark": {"type": "line", "strokeJoin": "round"},
"encoding": {
  "x": {"field": "t", "type": "temporal", "title": null, "scale": {"domain": [{"year": 2019, "month": 3, "date": 10, "hours": 15, "minutes": 30}, {"year": 2019, "month": 3, "date": 18, "hours": 7, "minutes": 36}]}},
  "y": {"field": "v", "type": "quantitative", "title": "°C", "scale": {"domain": [20, 28], "nice": false, "zero": false}, "axis": {"values": [20, 21, 22, 23, 24, 25, 26, 27, 28]}},
  "color": {"field": "s", "type": "nominal", "scale": {"domain": ["Real", "1lag", "6lags", "12lags", "24lags"], "range": ["#000000", "#008080", "#ffa500", "#ff0000", "#0000ff"]}, "legend": {"title": null}},
  "strokeWidth": {"condition": {"test": "datum.s === 'Real'", "value": 8}, "value": 5.5}
}
}
]
},
{
"title": {"text": "(b)", "orient": "bottom", "anchor": "middle", "font": "Liberation Serif", "fontSize": 60, "fontWeight": "bold", "color": "#000000", "offset": 60, "dx": 30},
"spacing": 160,
"resolve": {"scale": {"color": "independent", "x": "independent", "y": "independent"}, "legend": {"color": "independent"}},
"vconcat": [
{
"width": 1535, "height": 806,
"data": {"format": {"parse": {"t": "date:'%Y-%m-%d %H'"}}, "values": [
{"s":"Real","t":"2019-01-28 00","v":22.22},{"s":"Real","t":"2019-01-28 03","v":22.13},{"s":"Real","t":"2019-01-28 06","v":22.07},{"s":"Real","t":"2019-01-28 08","v":22.18},{"s":"Real","t":"2019-01-28 10","v":22.33},{"s":"Real","t":"2019-01-28 13","v":22.55},{"s":"Real","t":"2019-01-28 15","v":22.65},{"s":"Real","t":"2019-01-28 16","v":22.82},{"s":"Real","t":"2019-01-28 18","v":22.73},{"s":"Real","t":"2019-01-28 21","v":22.6},
{"s":"Real","t":"2019-01-29 00","v":22.48},{"s":"Real","t":"2019-01-29 02","v":22.45},{"s":"Real","t":"2019-01-29 04","v":22.37},{"s":"Real","t":"2019-01-29 06","v":22.55},{"s":"Real","t":"2019-01-29 09","v":22.63},{"s":"Real","t":"2019-01-29 11","v":22.7},{"s":"Real","t":"2019-01-29 12","v":22.67},{"s":"Real","t":"2019-01-29 15","v":22.8},{"s":"Real","t":"2019-01-29 18","v":22.73},{"s":"Real","t":"2019-01-29 22","v":22.53},
{"s":"Real","t":"2019-01-30 01","v":22.43},{"s":"Real","t":"2019-01-30 04","v":22.31},{"s":"Real","t":"2019-01-30 07","v":22.37},{"s":"Real","t":"2019-01-30 10","v":22.45},{"s":"Real","t":"2019-01-30 13","v":22.63},{"s":"Real","t":"2019-01-30 15","v":22.72},{"s":"Real","t":"2019-01-30 18","v":22.85},{"s":"Real","t":"2019-01-30 20","v":22.67},
{"s":"Real","t":"2019-01-31 00","v":22.5},{"s":"Real","t":"2019-01-31 03","v":22.38},{"s":"Real","t":"2019-01-31 06","v":22.45},{"s":"Real","t":"2019-01-31 09","v":22.6},{"s":"Real","t":"2019-01-31 11","v":22.75},{"s":"Real","t":"2019-01-31 14","v":22.81},{"s":"Real","t":"2019-01-31 16","v":22.8},{"s":"Real","t":"2019-01-31 18","v":22.8},{"s":"Real","t":"2019-01-31 20","v":22.57},{"s":"Real","t":"2019-01-31 23","v":22.37},
{"s":"Real","t":"2019-02-01 01","v":22.23},{"s":"Real","t":"2019-02-01 03","v":22.15},{"s":"Real","t":"2019-02-01 06","v":22.1},{"s":"Real","t":"2019-02-01 08","v":22.18},{"s":"Real","t":"2019-02-01 10","v":22.05},{"s":"Real","t":"2019-02-01 12","v":22.18},{"s":"Real","t":"2019-02-01 14","v":22.07},{"s":"Real","t":"2019-02-01 17","v":22.27},{"s":"Real","t":"2019-02-01 19","v":22.1},{"s":"Real","t":"2019-02-01 21","v":21.85},
{"s":"Real","t":"2019-02-02 00","v":21.73},{"s":"Real","t":"2019-02-02 03","v":21.67},{"s":"Real","t":"2019-02-02 06","v":21.65},{"s":"Real","t":"2019-02-02 08","v":21.62},{"s":"Real","t":"2019-02-02 09","v":21.7},{"s":"Real","t":"2019-02-02 12","v":22.07},{"s":"Real","t":"2019-02-02 14","v":22.57},{"s":"Real","t":"2019-02-02 16","v":23.3},{"s":"Real","t":"2019-02-02 18","v":22.9},{"s":"Real","t":"2019-02-02 21","v":22.57},
{"s":"Real","t":"2019-02-03 00","v":22.27},{"s":"Real","t":"2019-02-03 02","v":22.0},{"s":"Real","t":"2019-02-03 04","v":21.92},{"s":"Real","t":"2019-02-03 08","v":21.7},{"s":"Real","t":"2019-02-03 10","v":21.8},{"s":"Real","t":"2019-02-03 12","v":22.23},{"s":"Real","t":"2019-02-03 14","v":22.73},{"s":"Real","t":"2019-02-03 16","v":23.45},{"s":"Real","t":"2019-02-03 18","v":23.07},{"s":"Real","t":"2019-02-03 21","v":22.77},{"s":"Real","t":"2019-02-03 23","v":22.43},
{"s":"0lags","t":"2019-01-28 00","v":21.95},{"s":"0lags","t":"2019-01-28 02","v":22.02},{"s":"0lags","t":"2019-01-28 05","v":21.87},{"s":"0lags","t":"2019-01-28 08","v":21.88},{"s":"0lags","t":"2019-01-28 11","v":22.12},{"s":"0lags","t":"2019-01-28 13","v":22.4},{"s":"0lags","t":"2019-01-28 15","v":22.35},{"s":"0lags","t":"2019-01-28 18","v":22.4},{"s":"0lags","t":"2019-01-28 21","v":22.32},{"s":"0lags","t":"2019-01-28 23","v":22.25},
{"s":"0lags","t":"2019-01-29 00","v":21.9},{"s":"0lags","t":"2019-01-29 04","v":21.87},{"s":"0lags","t":"2019-01-29 06","v":21.88},{"s":"0lags","t":"2019-01-29 08","v":22.2},{"s":"0lags","t":"2019-01-29 11","v":22.43},{"s":"0lags","t":"2019-01-29 12","v":22.28},{"s":"0lags","t":"2019-01-29 14","v":22.3},{"s":"0lags","t":"2019-01-29 18","v":22.28},{"s":"0lags","t":"2019-01-29 21","v":22.12},
{"s":"0lags","t":"2019-01-30 00","v":21.87},{"s":"0lags","t":"2019-01-30 06","v":21.85},{"s":"0lags","t":"2019-01-30 11","v":21.87},{"s":"0lags","t":"2019-01-30 13","v":22.3},{"s":"0lags","t":"2019-01-30 15","v":22.55},{"s":"0lags","t":"2019-01-30 18","v":22.85},{"s":"0lags","t":"2019-01-30 20","v":22.55},{"s":"0lags","t":"2019-01-30 21","v":22.8},{"s":"0lags","t":"2019-01-30 23","v":22.45},
{"s":"0lags","t":"2019-01-31 00","v":22.25},{"s":"0lags","t":"2019-01-31 03","v":22.22},{"s":"0lags","t":"2019-01-31 06","v":22.22},{"s":"0lags","t":"2019-01-31 07","v":22.1},{"s":"0lags","t":"2019-01-31 09","v":22.35},{"s":"0lags","t":"2019-01-31 12","v":22.75},{"s":"0lags","t":"2019-01-31 14","v":22.72},{"s":"0lags","t":"2019-01-31 16","v":22.35},{"s":"0lags","t":"2019-01-31 20","v":22.32},{"s":"0lags","t":"2019-01-31 23","v":22.22},
{"s":"0lags","t":"2019-02-01 00","v":22.0},{"s":"0lags","t":"2019-02-01 02","v":22.0},{"s":"0lags","t":"2019-02-01 04","v":21.85},{"s":"0lags","t":"2019-02-01 08","v":21.85},{"s":"0lags","t":"2019-02-01 12","v":21.87},{"s":"0lags","t":"2019-02-01 14","v":21.95},{"s":"0lags","t":"2019-02-01 16","v":22.05},{"s":"0lags","t":"2019-02-01 19","v":22.0},{"s":"0lags","t":"2019-02-01 22","v":21.88},
{"s":"0lags","t":"2019-02-02 02","v":21.86},{"s":"0lags","t":"2019-02-02 08","v":21.86},{"s":"0lags","t":"2019-02-02 12","v":21.95},{"s":"0lags","t":"2019-02-02 15","v":22.25},{"s":"0lags","t":"2019-02-02 17","v":22.1},{"s":"0lags","t":"2019-02-02 20","v":22.13},{"s":"0lags","t":"2019-02-02 23","v":21.88},
{"s":"0lags","t":"2019-02-03 04","v":21.85},{"s":"0lags","t":"2019-02-03 10","v":21.85},{"s":"0lags","t":"2019-02-03 13","v":21.88},{"s":"0lags","t":"2019-02-03 16","v":22.3},{"s":"0lags","t":"2019-02-03 18","v":22.15},{"s":"0lags","t":"2019-02-03 21","v":22.1},{"s":"0lags","t":"2019-02-03 23","v":22.2},
{"s":"1lag","t":"2019-01-28 00","v":21.9},{"s":"1lag","t":"2019-01-28 02","v":22.0},{"s":"1lag","t":"2019-01-28 05","v":21.85},{"s":"1lag","t":"2019-01-28 08","v":21.85},{"s":"1lag","t":"2019-01-28 11","v":22.1},{"s":"1lag","t":"2019-01-28 13","v":22.37},{"s":"1lag","t":"2019-01-28 15","v":22.33},{"s":"1lag","t":"2019-01-28 18","v":22.37},{"s":"1lag","t":"2019-01-28 21","v":22.3},{"s":"1lag","t":"2019-01-28 23","v":22.23},
{"s":"1lag","t":"2019-01-29 00","v":21.87},{"s":"1lag","t":"2019-01-29 04","v":21.85},{"s":"1lag","t":"2019-01-29 06","v":21.87},{"s":"1lag","t":"2019-01-29 08","v":22.17},{"s":"1lag","t":"2019-01-29 11","v":22.4},{"s":"1lag","t":"2019-01-29 12","v":22.27},{"s":"1lag","t":"2019-01-29 14","v":22.3},{"s":"1lag","t":"2019-01-29 18","v":22.27},{"s":"1lag","t":"2019-01-29 21","v":22.1},
{"s":"1lag","t":"2019-01-30 00","v":21.85},{"s":"1lag","t":"2019-01-30 06","v":21.83},{"s":"1lag","t":"2019-01-30 11","v":21.85},{"s":"1lag","t":"2019-01-30 13","v":22.23},{"s":"1lag","t":"2019-01-30 15","v":22.47},{"s":"1lag","t":"2019-01-30 18","v":22.75},{"s":"1lag","t":"2019-01-30 20","v":22.57},{"s":"1lag","t":"2019-01-30 21","v":22.7},{"s":"1lag","t":"2019-01-30 23","v":22.53},
{"s":"1lag","t":"2019-01-31 00","v":22.23},{"s":"1lag","t":"2019-01-31 03","v":22.23},{"s":"1lag","t":"2019-01-31 06","v":22.2},{"s":"1lag","t":"2019-01-31 08","v":22.13},{"s":"1lag","t":"2019-01-31 10","v":22.4},{"s":"1lag","t":"2019-01-31 12","v":22.77},{"s":"1lag","t":"2019-01-31 14","v":22.7},{"s":"1lag","t":"2019-01-31 16","v":22.33},{"s":"1lag","t":"2019-01-31 20","v":22.3},{"s":"1lag","t":"2019-01-31 23","v":22.2},
{"s":"1lag","t":"2019-02-01 00","v":21.97},{"s":"1lag","t":"2019-02-01 02","v":22.03},{"s":"1lag","t":"2019-02-01 04","v":21.83},{"s":"1lag","t":"2019-02-01 08","v":21.83},{"s":"1lag","t":"2019-02-01 12","v":21.85},{"s":"1lag","t":"2019-02-01 14","v":21.93},{"s":"1lag","t":"2019-02-01 16","v":22.1},{"s":"1lag","t":"2019-02-01 19","v":22.03},{"s":"1lag","t":"2019-02-01 22","v":21.87},
{"s":"1lag","t":"2019-02-02 02","v":21.85},{"s":"1lag","t":"2019-02-02 08","v":21.85},{"s":"1lag","t":"2019-02-02 12","v":21.93},{"s":"1lag","t":"2019-02-02 15","v":22.27},{"s":"1lag","t":"2019-02-02 17","v":22.07},{"s":"1lag","t":"2019-02-02 20","v":22.1},{"s":"1lag","t":"2019-02-02 23","v":21.87},
{"s":"1lag","t":"2019-02-03 04","v":21.83},{"s":"1lag","t":"2019-02-03 10","v":21.83},{"s":"1lag","t":"2019-02-03 13","v":21.87},{"s":"1lag","t":"2019-02-03 16","v":22.37},{"s":"1lag","t":"2019-02-03 18","v":22.1},{"s":"1lag","t":"2019-02-03 21","v":22.13},{"s":"1lag","t":"2019-02-03 23","v":22.1},
{"s":"6lags","t":"2019-01-28 00","v":21.97},{"s":"6lags","t":"2019-01-28 03","v":22.03},{"s":"6lags","t":"2019-01-28 06","v":21.9},{"s":"6lags","t":"2019-01-28 10","v":22.1},{"s":"6lags","t":"2019-01-28 15","v":22.35},{"s":"6lags","t":"2019-01-28 20","v":22.3},
{"s":"6lags","t":"2019-01-29 00","v":22.0},{"s":"6lags","t":"2019-01-29 04","v":21.93},{"s":"6lags","t":"2019-01-29 08","v":22.02},{"s":"6lags","t":"2019-01-29 12","v":22.23},{"s":"6lags","t":"2019-01-29 16","v":22.32},{"s":"6lags","t":"2019-01-29 20","v":22.23},
{"s":"6lags","t":"2019-01-30 00","v":21.87},{"s":"6lags","t":"2019-01-30 06","v":21.85},{"s":"6lags","t":"2019-01-30 12","v":21.87},{"s":"6lags","t":"2019-01-30 16","v":22.17},{"s":"6lags","t":"2019-01-30 19","v":22.33},{"s":"6lags","t":"2019-01-30 22","v":22.37},
{"s":"6lags","t":"2019-01-31 00","v":22.3},{"s":"6lags","t":"2019-01-31 04","v":22.27},{"s":"6lags","t":"2019-01-31 08","v":22.28},{"s":"6lags","t":"2019-01-31 12","v":22.33},{"s":"6lags","t":"2019-01-31 16","v":22.42},{"s":"6lags","t":"2019-01-31 18","v":22.4},{"s":"6lags","t":"2019-01-31 22","v":22.33},
{"s":"6lags","t":"2019-02-01 01","v":22.1},{"s":"6lags","t":"2019-02-01 04","v":21.9},{"s":"6lags","t":"2019-02-01 09","v":21.87},{"s":"6lags","t":"2019-02-01 14","v":21.85},{"s":"6lags","t":"2019-02-01 18","v":21.9},{"s":"6lags","t":"2019-02-01 22","v":21.9},
{"s":"6lags","t":"2019-02-02 02","v":21.87},{"s":"6lags","t":"2019-02-02 08","v":21.85},{"s":"6lags","t":"2019-02-02 12","v":22.07},{"s":"6lags","t":"2019-02-02 16","v":22.33},{"s":"6lags","t":"2019-02-02 19","v":22.13},{"s":"6lags","t":"2019-02-02 22","v":21.93},
{"s":"6lags","t":"2019-02-03 02","v":21.85},{"s":"6lags","t":"2019-02-03 08","v":21.85},{"s":"6lags","t":"2019-02-03 12","v":21.9},{"s":"6lags","t":"2019-02-03 16","v":22.23},{"s":"6lags","t":"2019-02-03 19","v":22.17},{"s":"6lags","t":"2019-02-03 23","v":22.0},
{"s":"12lags","t":"2019-01-28 00","v":22.02},{"s":"12lags","t":"2019-01-28 02","v":22.07},{"s":"12lags","t":"2019-01-28 05","v":21.97},{"s":"12lags","t":"2019-01-28 08","v":22.0},{"s":"12lags","t":"2019-01-28 12","v":22.17},{"s":"12lags","t":"2019-01-28 16","v":22.28},{"s":"12lags","t":"2019-01-28 19","v":22.25},{"s":"12lags","t":"2019-01-28 23","v":22.23},
{"s":"12lags","t":"2019-01-29 00","v":22.03},{"s":"12lags","t":"2019-01-29 03","v":22.0},{"s":"12lags","t":"2019-01-29 07","v":21.95},{"s":"12lags","t":"2019-01-29 11","v":22.08},{"s":"12lags","t":"2019-01-29 14","v":22.23},{"s":"12lags","t":"2019-01-29 18","v":22.25},{"s":"12lags","t":"2019-01-29 21","v":22.2},
{"s":"12lags","t":"2019-01-30 00","v":22.03},{"s":"12lags","t":"2019-01-30 03","v":21.87},{"s":"12lags","t":"2019-01-30 08","v":21.85},{"s":"12lags","t":"2019-01-30 13","v":21.88},{"s":"12lags","t":"2019-01-30 17","v":21.97},{"s":"12lags","t":"2019-01-30 21","v":22.07},{"s":"12lags","t":"2019-01-30 23","v":22.2},
{"s":"12lags","t":"2019-01-31 00","v":22.1},{"s":"12lags","t":"2019-01-31 03","v":22.23},{"s":"12lags","t":"2019-01-31 06","v":22.23},{"s":"12lags","t":"2019-01-31 10","v":22.27},{"s":"12lags","t":"2019-01-31 14","v":22.35},{"s":"12lags","t":"2019-01-31 18","v":22.35},{"s":"12lags","t":"2019-01-31 22","v":22.32},
{"s":"12lags","t":"2019-02-01 01","v":22.13},{"s":"12lags","t":"2019-02-01 05","v":21.93},{"s":"12lags","t":"2019-02-01 09","v":21.92},{"s":"12lags","t":"2019-02-01 12","v":21.95},{"s":"12lags","t":"2019-02-01 17","v":21.9},{"s":"12lags","t":"2019-02-01 22","v":21.88},
{"s":"12lags","t":"2019-02-02 01","v":21.85},{"s":"12lags","t":"2019-02-02 08","v":21.85},{"s":"12lags","t":"2019-02-02 11","v":21.93},{"s":"12lags","t":"2019-02-02 14","v":22.13},{"s":"12lags","t":"2019-02-02 16","v":22.27},{"s":"12lags","t":"2019-02-02 18","v":22.1},{"s":"12lags","t":"2019-02-02 21","v":21.97},
{"s":"12lags","t":"2019-02-03 00","v":21.85},{"s":"12lags","t":"2019-02-03 06","v":21.85},{"s":"12lags","t":"2019-02-03 10","v":21.85},{"s":"12lags","t":"2019-02-03 13","v":22.03},{"s":"12lags","t":"2019-02-03 16","v":22.17},{"s":"12lags","t":"2019-02-03 19","v":22.1},{"s":"12lags","t":"2019-02-03 21","v":21.95},{"s":"12lags","t":"2019-02-03 23","v":21.93},
{"s":"24lags","t":"2019-01-28 00","v":22.23},{"s":"24lags","t":"2019-01-28 03","v":22.07},{"s":"24lags","t":"2019-01-28 05","v":21.87},{"s":"24lags","t":"2019-01-28 08","v":21.97},{"s":"24lags","t":"2019-01-28 10","v":22.2},{"s":"24lags","t":"2019-01-28 13","v":22.43},{"s":"24lags","t":"2019-01-28 15","v":22.57},{"s":"24lags","t":"2019-01-28 18","v":22.42},{"s":"24lags","t":"2019-01-28 21","v":22.25},{"s":"24lags","t":"2019-01-28 23","v":22.17},
{"s":"24lags","t":"2019-01-29 01","v":21.97},{"s":"24lags","t":"2019-01-29 03","v":21.88},{"s":"24lags","t":"2019-01-29 06","v":21.92},{"s":"24lags","t":"2019-01-29 09","v":22.17},{"s":"24lags","t":"2019-01-29 12","v":22.3},{"s":"24lags","t":"2019-01-29 16","v":22.35},{"s":"24lags","t":"2019-01-29 19","v":22.3},{"s":"24lags","t":"2019-01-29 22","v":22.12},
{"s":"24lags","t":"2019-01-30 00","v":21.93},{"s":"24lags","t":"2019-01-30 04","v":21.92},{"s":"24lags","t":"2019-01-30 07","v":22.0},{"s":"24lags","t":"2019-01-30 10","v":22.22},{"s":"24lags","t":"2019-01-30 12","v":22.22},{"s":"24lags","t":"2019-01-30 15","v":22.28},{"s":"24lags","t":"2019-01-30 18","v":22.25},{"s":"24lags","t":"2019-01-30 20","v":22.15},{"s":"24lags","t":"2019-01-30 23","v":22.1},
{"s":"24lags","t":"2019-01-31 01","v":21.9},{"s":"24lags","t":"2019-01-31 04","v":21.8},{"s":"24lags","t":"2019-01-31 06","v":21.88},{"s":"24lags","t":"2019-01-31 09","v":22.03},{"s":"24lags","t":"2019-01-31 12","v":22.2},{"s":"24lags","t":"2019-01-31 15","v":22.33},{"s":"24lags","t":"2019-01-31 18","v":22.35},{"s":"24lags","t":"2019-01-31 21","v":22.3},
{"s":"24lags","t":"2019-02-01 00","v":22.03},{"s":"24lags","t":"2019-02-01 05","v":22.07},{"s":"24lags","t":"2019-02-01 09","v":22.18},{"s":"24lags","t":"2019-02-01 11","v":22.3},{"s":"24lags","t":"2019-02-01 15","v":22.22},{"s":"24lags","t":"2019-02-01 18","v":22.13},{"s":"24lags","t":"2019-02-01 22","v":22.07},
{"s":"24lags","t":"2019-02-02 00","v":21.83},{"s":"24lags","t":"2019-02-02 03","v":21.82},{"s":"24lags","t":"2019-02-02 08","v":21.82},{"s":"24lags","t":"2019-02-02 11","v":22.1},{"s":"24lags","t":"2019-02-02 14","v":22.33},{"s":"24lags","t":"2019-02-02 16","v":22.52},{"s":"24lags","t":"2019-02-02 18","v":22.33},{"s":"24lags","t":"2019-02-02 21","v":22.07},
{"s":"24lags","t":"2019-02-03 00","v":21.77},{"s":"24lags","t":"2019-02-03 04","v":21.75},{"s":"24lags","t":"2019-02-03 08","v":21.75},{"s":"24lags","t":"2019-02-03 10","v":21.78},{"s":"24lags","t":"2019-02-03 12","v":22.2},{"s":"24lags","t":"2019-02-03 15","v":22.5},{"s":"24lags","t":"2019-02-03 16","v":22.57},{"s":"24lags","t":"2019-02-03 19","v":22.42},{"s":"24lags","t":"2019-02-03 21","v":22.2},{"s":"24lags","t":"2019-02-03 23","v":22.02}
]},
"mark": {"type": "line", "strokeJoin": "round"},
"encoding": {
  "x": {"field": "t", "type": "temporal", "title": null, "scale": {"domain": [{"year": 2019, "month": 1, "date": 27, "hours": 15, "minutes": 30}, {"year": 2019, "month": 2, "date": 4, "hours": 7, "minutes": 36}]}},
  "y": {"field": "v", "type": "quantitative", "title": "°C", "scale": {"domain": [20, 28], "nice": false, "zero": false}, "axis": {"values": [20, 21, 22, 23, 24, 25, 26, 27, 28]}},
  "color": {"field": "s", "type": "nominal", "scale": {"domain": ["Real", "0lags", "1lag", "6lags", "12lags", "24lags"], "range": ["#000000", "#9400d3", "#008080", "#ffa500", "#ff0000", "#0000ff"]}, "legend": {"title": null}},
  "strokeWidth": {"condition": {"test": "datum.s === 'Real'", "value": 8}, "value": 5.5}
}
},
{
"width": 1535, "height": 756,
"data": {"format": {"parse": {"t": "date:'%Y-%m-%d %H'"}}, "values": [
{"s":"Real","t":"2019-03-11 00","v":22.21},{"s":"Real","t":"2019-03-11 02","v":22.11},{"s":"Real","t":"2019-03-11 04","v":22.04},{"s":"Real","t":"2019-03-11 05","v":21.92},{"s":"Real","t":"2019-03-11 07","v":21.9},{"s":"Real","t":"2019-03-11 08","v":22.09},{"s":"Real","t":"2019-03-11 11","v":22.62},{"s":"Real","t":"2019-03-11 13","v":23.26},{"s":"Real","t":"2019-03-11 15","v":23.64},{"s":"Real","t":"2019-03-11 17","v":23.87},{"s":"Real","t":"2019-03-11 19","v":23.53},{"s":"Real","t":"2019-03-11 22","v":23.26},
{"s":"Real","t":"2019-03-12 01","v":23.08},{"s":"Real","t":"2019-03-12 03","v":22.89},{"s":"Real","t":"2019-03-12 05","v":22.81},{"s":"Real","t":"2019-03-12 07","v":22.68},{"s":"Real","t":"2019-03-12 09","v":22.89},{"s":"Real","t":"2019-03-12 11","v":23.19},{"s":"Real","t":"2019-03-12 13","v":23.26},{"s":"Real","t":"2019-03-12 15","v":23.19},{"s":"Real","t":"2019-03-12 16","v":22.81},{"s":"Real","t":"2019-03-12 19","v":22.81},{"s":"Real","t":"2019-03-12 22","v":22.72},
{"s":"Real","t":"2019-03-13 01","v":22.62},{"s":"Real","t":"2019-03-13 04","v":22.55},{"s":"Real","t":"2019-03-13 07","v":22.38},{"s":"Real","t":"2019-03-13 09","v":22.51},{"s":"Real","t":"2019-03-13 12","v":22.96},{"s":"Real","t":"2019-03-13 15","v":23.0},{"s":"Real","t":"2019-03-13 17","v":23.21},{"s":"Real","t":"2019-03-13 19","v":23.15},{"s":"Real","t":"2019-03-13 22","v":23.0},
{"s":"Real","t":"2019-03-14 01","v":22.85},{"s":"Real","t":"2019-03-14 04","v":22.74},{"s":"Real","t":"2019-03-14 07","v":22.43},{"s":"Real","t":"2019-03-14 09","v":22.55},{"s":"Real","t":"2019-03-14 11","v":22.85},{"s":"Real","t":"2019-03-14 14","v":23.45},{"s":"Real","t":"2019-03-14 15","v":23.79},{"s":"Real","t":"2019-03-14 16","v":23.91},{"s":"Real","t":"2019-03-14 18","v":23.96},{"s":"Real","t":"2019-03-14 21","v":23.68},
{"s":"Real","t":"2019-03-15 00","v":23.38},{"s":"Real","t":"2019-03-15 02","v":23.23},{"s":"Real","t":"2019-03-15 05","v":22.96},{"s":"Real","t":"2019-03-15 07","v":22.66},{"s":"Real","t":"2019-03-15 09","v":22.77},{"s":"Real","t":"2019-03-15 11","v":23.3},{"s":"Real","t":"2019-03-15 13","v":23.72},{"s":"Real","t":"2019-03-15 15","v":24.13},{"s":"Real","t":"2019-03-15 17","v":24.43},{"s":"Real","t":"2019-03-15 19","v":24.06},{"s":"Real","t":"2019-03-15 22","v":23.72},
{"s":"Real","t":"2019-03-16 01","v":23.53},{"s":"Real","t":"2019-03-16 03","v":23.23},{"s":"Real","t":"2019-03-16 06","v":22.96},{"s":"Real","t":"2019-03-16 09","v":23.23},{"s":"Real","t":"2019-03-16 12","v":23.49},{"s":"Real","t":"2019-03-16 14","v":23.58},{"s":"Real","t":"2019-03-16 16","v":23.42},{"s":"Real","t":"2019-03-16 20","v":23.04},{"s":"Real","t":"2019-03-16 23","v":22.77},
{"s":"Real","t":"2019-03-17 03","v":22.62},{"s":"Real","t":"2019-03-17 05","v":22.47},{"s":"Real","t":"2019-03-17 08","v":22.51},{"s":"Real","t":"2019-03-17 11","v":22.85},{"s":"Real","t":"2019-03-17 14","v":23.19},{"s":"Real","t":"2019-03-17 16","v":23.57},{"s":"Real","t":"2019-03-17 17","v":23.53},{"s":"Real","t":"2019-03-17 20","v":23.15},{"s":"Real","t":"2019-03-17 23","v":22.81},
{"s":"0lags","t":"2019-03-11 00","v":22.4},{"s":"0lags","t":"2019-03-11 02","v":22.25},{"s":"0lags","t":"2019-03-11 05","v":21.94},{"s":"0lags","t":"2019-03-11 07","v":21.79},{"s":"0lags","t":"2019-03-11 09","v":22.02},{"s":"0lags","t":"2019-03-11 11","v":22.62},{"s":"0lags","t":"2019-03-11 13","v":23.19},{"s":"0lags","t":"2019-03-11 15","v":23.53},{"s":"0lags","t":"2019-03-11 17","v":23.57},{"s":"0lags","t":"2019-03-11 19","v":23.3},{"s":"0lags","t":"2019-03-11 21","v":23.23},{"s":"0lags","t":"2019-03-11 23","v":22.77},
{"s":"0lags","t":"2019-03-12 00","v":22.66},{"s":"0lags","t":"2019-03-12 02","v":22.36},{"s":"0lags","t":"2019-03-12 05","v":22.32},{"s":"0lags","t":"2019-03-12 07","v":22.36},{"s":"0lags","t":"2019-03-12 10","v":22.77},{"s":"0lags","t":"2019-03-12 13","v":22.92},{"s":"0lags","t":"2019-03-12 15","v":23.08},{"s":"0lags","t":"2019-03-12 16","v":22.51},{"s":"0lags","t":"2019-03-12 18","v":22.43},{"s":"0lags","t":"2019-03-12 21","v":22.4},{"s":"0lags","t":"2019-03-12 23","v":22.17},
{"s":"0lags","t":"2019-03-13 01","v":21.94},{"s":"0lags","t":"2019-03-13 03","v":21.87},{"s":"0lags","t":"2019-03-13 06","v":21.79},{"s":"0lags","t":"2019-03-13 07","v":21.94},{"s":"0lags","t":"2019-03-13 10","v":22.32},{"s":"0lags","t":"2019-03-13 13","v":22.4},{"s":"0lags","t":"2019-03-13 15","v":22.4},{"s":"0lags","t":"2019-03-13 17","v":22.47},{"s":"0lags","t":"2019-03-13 20","v":22.47},{"s":"0lags","t":"2019-03-13 22","v":22.4},
{"s":"0lags","t":"2019-03-14 01","v":22.02},{"s":"0lags","t":"2019-03-14 04","v":21.96},{"s":"0lags","t":"2019-03-14 07","v":21.96},{"s":"0lags","t":"2019-03-14 09","v":21.94},{"s":"0lags","t":"2019-03-14 12","v":22.43},{"s":"0lags","t":"2019-03-14 14","v":22.7},{"s":"0lags","t":"2019-03-14 15","v":23.0},{"s":"0lags","t":"2019-03-14 17","v":23.38},{"s":"0lags","t":"2019-03-14 19","v":23.15},{"s":"0lags","t":"2019-03-14 21","v":22.77},
{"s":"0lags","t":"2019-03-15 00","v":22.28},{"s":"0lags","t":"2019-03-15 03","v":22.17},{"s":"0lags","t":"2019-03-15 05","v":22.02},{"s":"0lags","t":"2019-03-15 08","v":22.28},{"s":"0lags","t":"2019-03-15 11","v":23.0},{"s":"0lags","t":"2019-03-15 15","v":23.6},{"s":"0lags","t":"2019-03-15 17","v":23.98},{"s":"0lags","t":"2019-03-15 19","v":23.94},{"s":"0lags","t":"2019-03-15 22","v":24.02},{"s":"0lags","t":"2019-03-15 23","v":23.68},
{"s":"0lags","t":"2019-03-16 03","v":23.38},{"s":"0lags","t":"2019-03-16 05","v":23.08},{"s":"0lags","t":"2019-03-16 07","v":22.7},{"s":"0lags","t":"2019-03-16 10","v":22.85},{"s":"0lags","t":"2019-03-16 13","v":22.89},{"s":"0lags","t":"2019-03-16 16","v":23.06},{"s":"0lags","t":"2019-03-16 18","v":22.85},{"s":"0lags","t":"2019-03-16 20","v":22.58},{"s":"0lags","t":"2019-03-16 22","v":22.62},
{"s":"0lags","t":"2019-03-17 00","v":22.47},{"s":"0lags","t":"2019-03-17 04","v":22.47},{"s":"0lags","t":"2019-03-17 07","v":22.32},{"s":"0lags","t":"2019-03-17 10","v":22.13},{"s":"0lags","t":"2019-03-17 12","v":22.62},{"s":"0lags","t":"2019-03-17 15","v":23.0},{"s":"0lags","t":"2019-03-17 16","v":23.23},{"s":"0lags","t":"2019-03-17 19","v":22.77},{"s":"0lags","t":"2019-03-17 23","v":22.4},
{"s":"1lag","t":"2019-03-11 00","v":22.47},{"s":"1lag","t":"2019-03-11 02","v":22.32},{"s":"1lag","t":"2019-03-11 05","v":22.28},{"s":"1lag","t":"2019-03-11 07","v":22.08},{"s":"1lag","t":"2019-03-11 10","v":22.55},{"s":"1lag","t":"2019-03-11 13","v":23.19},{"s":"1lag","t":"2019-03-11 14","v":23.68},{"s":"1lag","t":"2019-03-11 17","v":23.94},{"s":"1lag","t":"2019-03-11 19","v":23.72},{"s":"1lag","t":"2019-03-11 21","v":23.3},
{"s":"1lag","t":"2019-03-12 00","v":22.92},{"s":"1lag","t":"2019-03-12 02","v":22.55},{"s":"1lag","t":"2019-03-12 03","v":22.32},{"s":"1lag","t":"2019-03-12 05","v":22.26},{"s":"1lag","t":"2019-03-12 08","v":22.32},{"s":"1lag","t":"2019-03-12 11","v":22.77},{"s":"1lag","t":"2019-03-12 13","v":22.92},{"s":"1lag","t":"2019-03-12 15","v":23.23},{"s":"1lag","t":"2019-03-12 17","v":22.43},{"s":"1lag","t":"2019-03-12 19","v":22.36},{"s":"1lag","t":"2019-03-12 22","v":22.28},
{"s":"1lag","t":"2019-03-13 01","v":22.23},{"s":"1lag","t":"2019-03-13 07","v":22.21},{"s":"1lag","t":"2019-03-13 09","v":22.23},{"s":"1lag","t":"2019-03-13 11","v":22.58},{"s":"1lag","t":"2019-03-13 13","v":22.43},{"s":"1lag","t":"2019-03-13 14","v":22.81},{"s":"1lag","t":"2019-03-13 16","v":22.47},{"s":"1lag","t":"2019-03-13 19","v":22.43},{"s":"1lag","t":"2019-03-13 22","v":22.4},
{"s":"1lag","t":"2019-03-14 01","v":22.23},{"s":"1lag","t":"2019-03-14 07","v":22.21},{"s":"1lag","t":"2019-03-14 09","v":22.32},{"s":"1lag","t":"2019-03-14 11","v":22.66},{"s":"1lag","t":"2019-03-14 14","v":22.92},{"s":"1lag","t":"2019-03-14 16","v":23.3},{"s":"1lag","t":"2019-03-14 17","v":23.79},{"s":"1lag","t":"2019-03-14 18","v":23.34},{"s":"1lag","t":"2019-03-14 20","v":23.26},{"s":"1lag","t":"2019-03-14 22","v":22.92},
{"s":"1lag","t":"2019-03-15 00","v":22.32},{"s":"1lag","t":"2019-03-15 04","v":22.25},{"s":"1lag","t":"2019-03-15 06","v":22.21},{"s":"1lag","t":"2019-03-15 09","v":22.32},{"s":"1lag","t":"2019-03-15 11","v":23.0},{"s":"1lag","t":"2019-03-15 13","v":23.75},{"s":"1lag","t":"2019-03-15 17","v":24.36},{"s":"1lag","t":"2019-03-15 19","v":24.02},{"s":"1lag","t":"2019-03-15 21","v":24.09},{"s":"1lag","t":"2019-03-15 23","v":24.06},
{"s":"1lag","t":"2019-03-16 00","v":23.75},{"s":"1lag","t":"2019-03-16 02","v":23.72},{"s":"1lag","t":"2019-03-16 04","v":23.23},{"s":"1lag","t":"2019-03-16 07","v":22.51},{"s":"1lag","t":"2019-03-16 10","v":22.7},{"s":"1lag","t":"2019-03-16 13","v":23.45},{"s":"1lag","t":"2019-03-16 14","v":23.53},{"s":"1lag","t":"2019-03-16 15","v":23.19},{"s":"1lag","t":"2019-03-16 16","v":23.3},{"s":"1lag","t":"2019-03-16 18","v":23.08},{"s":"1lag","t":"2019-03-16 20","v":22.58},{"s":"1lag","t":"2019-03-16 22","v":22.58},
{"s":"1lag","t":"2019-03-17 01","v":22.43},{"s":"1lag","t":"2019-03-17 04","v":22.43},{"s":"1lag","t":"2019-03-17 06","v":22.36},{"s":"1lag","t":"2019-03-17 09","v":22.32},{"s":"1lag","t":"2019-03-17 12","v":22.7},{"s":"1lag","t":"2019-03-17 15","v":23.3},{"s":"1lag","t":"2019-03-17 17","v":23.6},{"s":"1lag","t":"2019-03-17 19","v":23.19},{"s":"1lag","t":"2019-03-17 21","v":22.7},{"s":"1lag","t":"2019-03-17 23","v":22.36},
{"s":"6lags","t":"2019-03-11 00","v":22.55},{"s":"6lags","t":"2019-03-11 04","v":22.25},{"s":"6lags","t":"2019-03-11 07","v":22.0},{"s":"6lags","t":"2019-03-11 10","v":22.25},{"s":"6lags","t":"2019-03-11 12","v":22.92},{"s":"6lags","t":"2019-03-11 14","v":23.42},{"s":"6lags","t":"2019-03-11 17","v":23.79},{"s":"6lags","t":"2019-03-11 19","v":23.53},{"s":"6lags","t":"2019-03-11 21","v":23.15},
{"s":"6lags","t":"2019-03-12 00","v":22.85},{"s":"6lags","t":"2019-03-12 02","v":22.62},{"s":"6lags","t":"2019-03-12 05","v":22.36},{"s":"6lags","t":"2019-03-12 07","v":22.28},{"s":"6lags","t":"2019-03-12 10","v":22.55},{"s":"6lags","t":"2019-03-12 13","v":22.77},{"s":"6lags","t":"2019-03-12 15","v":23.0},{"s":"6lags","t":"2019-03-12 18","v":22.77},{"s":"6lags","t":"2019-03-12 20","v":22.55},{"s":"6lags","t":"2019-03-12 22","v":22.06},
{"s":"6lags","t":"2019-03-13 01","v":21.91},{"s":"6lags","t":"2019-03-13 04","v":21.87},{"s":"6lags","t":"2019-03-13 07","v":21.89},{"s":"6lags","t":"2019-03-13 09","v":21.91},{"s":"6lags","t":"2019-03-13 12","v":22.17},{"s":"6lags","t":"2019-03-13 14","v":22.4},{"s":"6lags","t":"2019-03-13 15","v":22.7},{"s":"6lags","t":"2019-03-13 18","v":22.43},{"s":"6lags","t":"2019-03-13 20","v":22.36},{"s":"6lags","t":"2019-03-13 22","v":22.25},
{"s":"6lags","t":"2019-03-14 01","v":21.94},{"s":"6lags","t":"2019-03-14 04","v":21.89},{"s":"6lags","t":"2019-03-14 07","v":21.87},{"s":"6lags","t":"2019-03-14 09","v":22.06},{"s":"6lags","t":"2019-03-14 11","v":22.4},{"s":"6lags","t":"2019-03-14 14","v":22.92},{"s":"6lags","t":"2019-03-14 16","v":23.27},{"s":"6lags","t":"2019-03-14 18","v":23.23},{"s":"6lags","t":"2019-03-14 20","v":23.08},{"s":"6lags","t":"2019-03-14 23","v":22.74},
{"s":"6lags","t":"2019-03-15 02","v":22.32},{"s":"6lags","t":"2019-03-15 04","v":22.13},{"s":"6lags","t":"2019-03-15 06","v":21.94},{"s":"6lags","t":"2019-03-15 08","v":22.06},{"s":"6lags","t":"2019-03-15 10","v":22.47},{"s":"6lags","t":"2019-03-15 12","v":23.19},{"s":"6lags","t":"2019-03-15 15","v":23.75},{"s":"6lags","t":"2019-03-15 17","v":24.06},{"s":"6lags","t":"2019-03-15 19","v":23.87},{"s":"6lags","t":"2019-03-15 23","v":23.6},
{"s":"6lags","t":"2019-03-16 02","v":23.42},{"s":"6lags","t":"2019-03-16 05","v":23.23},{"s":"6lags","t":"2019-03-16 07","v":23.08},{"s":"6lags","t":"2019-03-16 10","v":23.23},{"s":"6lags","t":"2019-03-16 13","v":23.4},{"s":"6lags","t":"2019-03-16 16","v":23.38},{"s":"6lags","t":"2019-03-16 18","v":22.85},{"s":"6lags","t":"2019-03-16 21","v":22.55},
{"s":"6lags","t":"2019-03-17 00","v":22.36},{"s":"6lags","t":"2019-03-17 03","v":22.32},{"s":"6lags","t":"2019-03-17 06","v":22.32},{"s":"6lags","t":"2019-03-17 09","v":22.28},{"s":"6lags","t":"2019-03-17 12","v":22.62},{"s":"6lags","t":"2019-03-17 15","v":23.15},{"s":"6lags","t":"2019-03-17 18","v":23.3},{"s":"6lags","t":"2019-03-17 20","v":22.92},{"s":"6lags","t":"2019-03-17 23","v":22.62},
{"s":"12lags","t":"2019-03-11 00","v":22.36},{"s":"12lags","t":"2019-03-11 04","v":22.32},{"s":"12lags","t":"2019-03-11 07","v":22.26},{"s":"12lags","t":"2019-03-11 10","v":22.51},{"s":"12lags","t":"2019-03-11 12","v":23.0},{"s":"12lags","t":"2019-03-11 14","v":23.45},{"s":"12lags","t":"2019-03-11 16","v":23.64},{"s":"12lags","t":"2019-03-11 17","v":23.51},{"s":"12lags","t":"2019-03-11 19","v":23.38},{"s":"12lags","t":"2019-03-11 21","v":23.34},
{"s":"12lags","t":"2019-03-12 00","v":23.15},{"s":"12lags","t":"2019-03-12 02","v":22.89},{"s":"12lags","t":"2019-03-12 05","v":22.47},{"s":"12lags","t":"2019-03-12 07","v":22.42},{"s":"12lags","t":"2019-03-12 10","v":22.51},{"s":"12lags","t":"2019-03-12 13","v":22.7},{"s":"12lags","t":"2019-03-12 15","v":22.77},{"s":"12lags","t":"2019-03-12 18","v":22.62},{"s":"12lags","t":"2019-03-12 21","v":22.51},
{"s":"12lags","t":"2019-03-13 00","v":22.25},{"s":"12lags","t":"2019-03-13 03","v":22.17},{"s":"12lags","t":"2019-03-13 05","v":22.0},{"s":"12lags","t":"2019-03-13 07","v":21.92},{"s":"12lags","t":"2019-03-13 09","v":22.17},{"s":"12lags","t":"2019-03-13 12","v":22.32},{"s":"12lags","t":"2019-03-13 14","v":22.53},{"s":"12lags","t":"2019-03-13 16","v":22.51},{"s":"12lags","t":"2019-03-13 19","v":22.34},{"s":"12lags","t":"2019-03-13 22","v":22.34},
{"s":"12lags","t":"2019-03-14 00","v":22.06},{"s":"12lags","t":"2019-03-14 03","v":22.02},{"s":"12lags","t":"2019-03-14 06","v":21.98},{"s":"12lags","t":"2019-03-14 08","v":22.17},{"s":"12lags","t":"2019-03-14 11","v":22.51},{"s":"12lags","t":"2019-03-14 13","v":22.92},{"s":"12lags","t":"2019-03-14 14","v":23.0},{"s":"12lags","t":"2019-03-14 16","v":23.34},{"s":"12lags","t":"2019-03-14 19","v":23.15},{"s":"12lags","t":"2019-03-14 22","v":22.92},
{"s":"12lags","t":"2019-03-15 00","v":22.62},{"s":"12lags","t":"2019-03-15 03","v":22.47},{"s":"12lags","t":"2019-03-15 05","v":22.25},{"s":"12lags","t":"2019-03-15 08","v":22.25},{"s":"12lags","t":"2019-03-15 10","v":22.51},{"s":"12lags","t":"2019-03-15 12","v":23.04},{"s":"12lags","t":"2019-03-15 15","v":23.75},{"s":"12lags","t":"2019-03-15 16","v":23.83},{"s":"12lags","t":"2019-03-15 19","v":23.7},{"s":"12lags","t":"2019-03-15 23","v":23.64},
{"s":"12lags","t":"2019-03-16 01","v":23.42},{"s":"12lags","t":"2019-03-16 04","v":23.15},{"s":"12lags","t":"2019-03-16 07","v":23.04},{"s":"12lags","t":"2019-03-16 09","v":23.3},{"s":"12lags","t":"2019-03-16 13","v":23.83},{"s":"12lags","t":"2019-03-16 16","v":23.68},{"s":"12lags","t":"2019-03-16 18","v":23.0},{"s":"12lags","t":"2019-03-16 21","v":22.85},{"s":"12lags","t":"2019-03-16 23","v":22.74},
{"s":"12lags","t":"2019-03-17 01","v":22.25},{"s":"12lags","t":"2019-03-17 04","v":22.17},{"s":"12lags","t":"2019-03-17 07","v":22.11},{"s":"12lags","t":"2019-03-17 10","v":22.17},{"s":"12lags","t":"2019-03-17 12","v":22.62},{"s":"12lags","t":"2019-03-17 14","v":23.04},{"s":"12lags","t":"2019-03-17 16","v":23.34},{"s":"12lags","t":"2019-03-17 18","v":23.3},{"s":"12lags","t":"2019-03-17 21","v":22.77},{"s":"12lags","t":"2019-03-17 23","v":22.72},
{"s":"24lags","t":"2019-03-11 00","v":22.26},{"s":"24lags","t":"2019-03-11 02","v":22.17},{"s":"24lags","t":"2019-03-11 04","v":22.13},{"s":"24lags","t":"2019-03-11 07","v":22.13},{"s":"24lags","t":"2019-03-11 09","v":22.4},{"s":"24lags","t":"2019-03-11 11","v":22.74},{"s":"24lags","t":"2019-03-11 14","v":23.79},{"s":"24lags","t":"2019-03-11 16","v":24.23},{"s":"24lags","t":"2019-03-11 18","v":24.06},{"s":"24lags","t":"2019-03-11 20","v":23.75},{"s":"24lags","t":"2019-03-11 23","v":23.34},
{"s":"24lags","t":"2019-03-12 01","v":23.08},{"s":"24lags","t":"2019-03-12 03","v":22.7},{"s":"24lags","t":"2019-03-12 05","v":22.4},{"s":"24lags","t":"2019-03-12 07","v":22.23},{"s":"24lags","t":"2019-03-12 09","v":22.55},{"s":"24lags","t":"2019-03-12 12","v":23.11},{"s":"24lags","t":"2019-03-12 15","v":23.32},{"s":"24lags","t":"2019-03-12 18","v":23.19},{"s":"24lags","t":"2019-03-12 20","v":22.77},{"s":"24lags","t":"2019-03-12 22","v":22.55},
{"s":"24lags","t":"2019-03-13 00","v":22.09},{"s":"24lags","t":"2019-03-13 03","v":21.83},{"s":"24lags","t":"2019-03-13 06","v":21.81},{"s":"24lags","t":"2019-03-13 08","v":21.9},{"s":"24lags","t":"2019-03-13 10","v":22.4},{"s":"24lags","t":"2019-03-13 12","v":22.51},{"s":"24lags","t":"2019-03-13 14","v":22.85},{"s":"24lags","t":"2019-03-13 16","v":22.66},{"s":"24lags","t":"2019-03-13 19","v":22.4},{"s":"24lags","t":"2019-03-13 21","v":22.25},{"s":"24lags","t":"2019-03-13 22","v":22.02},
{"s":"24lags","t":"2019-03-14 00","v":21.91},{"s":"24lags","t":"2019-03-14 02","v":21.75},{"s":"24lags","t":"2019-03-14 05","v":21.68},{"s":"24lags","t":"2019-03-14 08","v":21.75},{"s":"24lags","t":"2019-03-14 10","v":22.17},{"s":"24lags","t":"2019-03-14 13","v":22.77},{"s":"24lags","t":"2019-03-14 14","v":23.3},{"s":"24lags","t":"2019-03-14 16","v":23.6},{"s":"24lags","t":"2019-03-14 18","v":23.42},{"s":"24lags","t":"2019-03-14 20","v":23.38},{"s":"24lags","t":"2019-03-14 23","v":22.83},
{"s":"24lags","t":"2019-03-15 02","v":22.7},{"s":"24lags","t":"2019-03-15 04","v":22.55},{"s":"24lags","t":"2019-03-15 07","v":22.28},{"s":"24lags","t":"2019-03-15 10","v":22.55},{"s":"24lags","t":"2019-03-15 12","v":23.34},{"s":"24lags","t":"2019-03-15 15","v":24.21},{"s":"24lags","t":"2019-03-15 16","v":24.51},{"s":"24lags","t":"2019-03-15 18","v":24.13},{"s":"24lags","t":"2019-03-15 20","v":23.83},{"s":"24lags","t":"2019-03-15 23","v":23.49},
{"s":"24lags","t":"2019-03-16 02","v":23.42},{"s":"24lags","t":"2019-03-16 04","v":23.15},{"s":"24lags","t":"2019-03-16 07","v":22.85},{"s":"24lags","t":"2019-03-16 09","v":23.11},{"s":"24lags","t":"2019-03-16 11","v":23.42},{"s":"24lags","t":"2019-03-16 13","v":23.49},{"s":"24lags","t":"2019-03-16 16","v":23.68},{"s":"24lags","t":"2019-03-16 18","v":23.38},{"s":"24lags","t":"2019-03-16 20","v":23.11},
{"s":"24lags","t":"2019-03-17 00","v":22.89},{"s":"24lags","t":"2019-03-17 03","v":22.62},{"s":"24lags","t":"2019-03-17 06","v":22.28},{"s":"24lags","t":"2019-03-17 09","v":22.4},{"s":"24lags","t":"2019-03-17 12","v":22.66},{"s":"24lags","t":"2019-03-17 15","v":23.3},{"s":"24lags","t":"2019-03-17 17","v":23.15},{"s":"24lags","t":"2019-03-17 19","v":22.77},{"s":"24lags","t":"2019-03-17 23","v":22.4}
]},
"mark": {"type": "line", "strokeJoin": "round"},
"encoding": {
  "x": {"field": "t", "type": "temporal", "title": null, "scale": {"domain": [{"year": 2019, "month": 3, "date": 10, "hours": 15, "minutes": 30}, {"year": 2019, "month": 3, "date": 18, "hours": 7, "minutes": 36}]}},
  "y": {"field": "v", "type": "quantitative", "title": "°C", "scale": {"domain": [20, 28], "nice": false, "zero": false}, "axis": {"values": [20, 21, 22, 23, 24, 25, 26, 27, 28]}},
  "color": {"field": "s", "type": "nominal", "scale": {"domain": ["Real", "0lags", "1lag", "6lags", "12lags", "24lags"], "range": ["#000000", "#9400d3", "#008080", "#ffa500", "#ff0000", "#0000ff"]}, "legend": {"title": null}},
  "strokeWidth": {"condition": {"test": "datum.s === 'Real'", "value": 8}, "value": 5.5}
}
}
]
}
]
}
